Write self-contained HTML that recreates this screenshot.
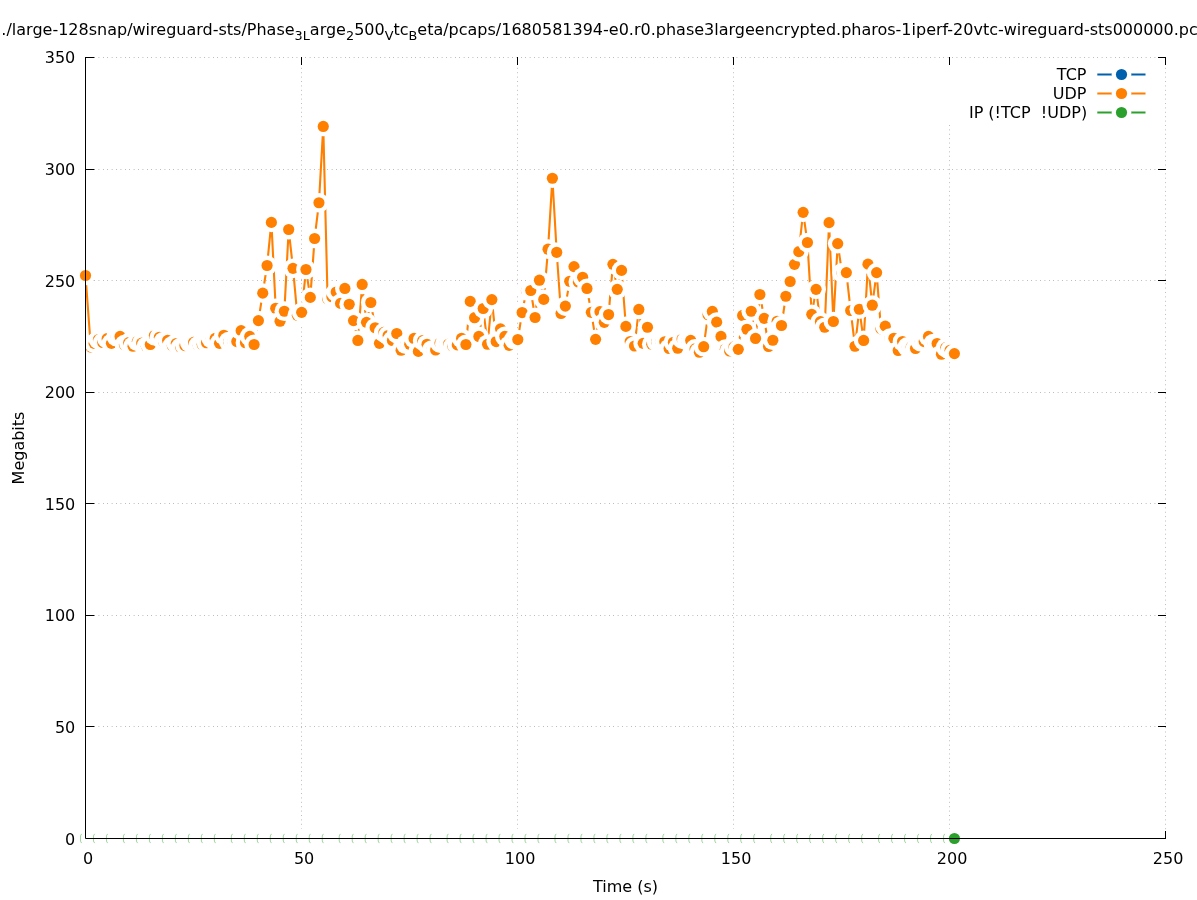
<!DOCTYPE html>
<html><head><meta charset="utf-8"><title>throughput</title>
<style>
html,body{margin:0;padding:0;background:#fff;}
body{width:1197px;height:900px;overflow:hidden;}
svg{display:block;}
text{font-family:"DejaVu Sans","Liberation Sans",sans-serif;font-size:16px;fill:#000;}
.g{stroke:#bdbdbd;stroke-width:1;stroke-dasharray:1 3.65 1 3.35 1 3.4 1 3.6 1 3;fill:none;}
.gv{stroke:#bdbdbd;stroke-width:1;stroke-dasharray:1 3.395;stroke-dashoffset:2.845;fill:none;}
.t{stroke:#000;stroke-width:1;fill:none;}
</style></head><body>
<svg width="1197" height="900" viewBox="0 0 1197 900">
<rect x="0" y="0" width="1197" height="900" fill="#fff"/>

<g id="grid">
<line class="g" x1="85.0" y1="726.50" x2="1165.5" y2="726.50"/>
<line class="g" x1="85.0" y1="615.50" x2="1165.5" y2="615.50"/>
<line class="g" x1="85.0" y1="503.50" x2="1165.5" y2="503.50"/>
<line class="g" x1="85.0" y1="392.50" x2="1165.5" y2="392.50"/>
<line class="g" x1="85.0" y1="280.50" x2="1165.5" y2="280.50"/>
<line class="g" x1="85.0" y1="169.50" x2="1165.5" y2="169.50"/>
<line class="g" x1="85.0" y1="57.50" x2="1165.5" y2="57.50"/>
<line class="gv" x1="301.50" y1="57.5" x2="301.50" y2="838.5"/>
<line class="gv" x1="517.50" y1="57.5" x2="517.50" y2="838.5"/>
<line class="gv" x1="733.50" y1="57.5" x2="733.50" y2="838.5"/>
<line class="gv" x1="949.50" y1="57.5" x2="949.50" y2="838.5"/>
<line class="gv" x1="1165.50" y1="57.5" x2="1165.50" y2="838.5"/>
</g>
<g id="ticks">
<line class="t" x1="85" y1="838.50" x2="94.3" y2="838.50"/>
<line class="t" x1="1166" y1="838.50" x2="1158" y2="838.50"/>
<line class="t" x1="85" y1="726.50" x2="94.3" y2="726.50"/>
<line class="t" x1="1166" y1="726.50" x2="1158" y2="726.50"/>
<line class="t" x1="85" y1="615.50" x2="94.3" y2="615.50"/>
<line class="t" x1="1166" y1="615.50" x2="1158" y2="615.50"/>
<line class="t" x1="85" y1="503.50" x2="94.3" y2="503.50"/>
<line class="t" x1="1166" y1="503.50" x2="1158" y2="503.50"/>
<line class="t" x1="85" y1="392.50" x2="94.3" y2="392.50"/>
<line class="t" x1="1166" y1="392.50" x2="1158" y2="392.50"/>
<line class="t" x1="85" y1="280.50" x2="93.4" y2="280.50"/>
<line class="t" x1="1166" y1="280.50" x2="1158" y2="280.50"/>
<line class="t" x1="85" y1="169.50" x2="94.3" y2="169.50"/>
<line class="t" x1="1166" y1="169.50" x2="1158" y2="169.50"/>
<line class="t" x1="85" y1="57.50" x2="94.3" y2="57.50"/>
<line class="t" x1="1166" y1="57.50" x2="1158" y2="57.50"/>
<line class="t" x1="85.50" y1="839" x2="85.50" y2="831"/>
<line class="t" x1="85.50" y1="57" x2="85.50" y2="65"/>
<line class="t" x1="301.50" y1="839" x2="301.50" y2="831"/>
<line class="t" x1="301.50" y1="57" x2="301.50" y2="65"/>
<line class="t" x1="517.50" y1="839" x2="517.50" y2="831"/>
<line class="t" x1="517.50" y1="57" x2="517.50" y2="65"/>
<line class="t" x1="733.50" y1="839" x2="733.50" y2="831"/>
<line class="t" x1="733.50" y1="57" x2="733.50" y2="65"/>
<line class="t" x1="949.50" y1="839" x2="949.50" y2="831"/>
<line class="t" x1="949.50" y1="57" x2="949.50" y2="65"/>
<line class="t" x1="1165.50" y1="839" x2="1165.50" y2="831"/>
<line class="t" x1="1165.50" y1="57" x2="1165.50" y2="65"/>
</g>
<rect id="keybox" x="944" y="65" width="216" height="60" fill="#fff"/>
<text x="1086.5" y="80.3" text-anchor="end" xml:space="preserve">TCP</text>
<line x1="1097.3" y1="74.5" x2="1145.5" y2="74.5" stroke="#0060ad" stroke-width="2.1"/>
<circle cx="1121.5" cy="74.5" r="9.85" fill="#fff"/><circle cx="1121.5" cy="74.5" r="5.58" fill="#0060ad"/>
<g id="tcp">
<polyline points="85.50,838.50 89.82,838.50 94.15,838.50 98.47,838.50 102.79,838.50 107.12,838.50 111.44,838.50 115.76,838.50 120.08,838.50 124.41,838.50 128.73,838.50 133.05,838.50 137.38,838.50 141.70,838.50 146.02,838.50 150.34,838.50 154.67,838.50 158.99,838.50 163.31,838.50 167.64,838.50 171.96,838.50 176.28,838.50 180.61,838.50 184.93,838.50 189.25,838.50 193.58,838.50 197.90,838.50 202.22,838.50 206.54,838.50 210.87,838.50 215.19,838.50 219.51,838.50 223.84,838.50 228.16,838.50 232.48,838.50 236.81,838.50 241.13,838.50 245.45,838.50 249.77,838.50 254.10,838.50 258.42,838.50 262.74,838.50 267.07,838.50 271.39,838.50 275.71,838.50 280.04,838.50 284.36,838.50 288.68,838.50 293.00,838.50 297.33,838.50 301.65,838.50 305.97,838.50 310.30,838.50 314.62,838.50 318.94,838.50 323.26,838.50 327.59,838.50 331.91,838.50 336.23,838.50 340.56,838.50 344.88,838.50 349.20,838.50 353.53,838.50 357.85,838.50 362.17,838.50 366.50,838.50 370.82,838.50 375.14,838.50 379.46,838.50 383.79,838.50 388.11,838.50 392.43,838.50 396.76,838.50 401.08,838.50 405.40,838.50 409.73,838.50 414.05,838.50 418.37,838.50 422.69,838.50 427.02,838.50 431.34,838.50 435.66,838.50 439.99,838.50 444.31,838.50 448.63,838.50 452.96,838.50 457.28,838.50 461.60,838.50 465.92,838.50 470.25,838.50 474.57,838.50 478.89,838.50 483.22,838.50 487.54,838.50 491.86,838.50 496.19,838.50 500.51,838.50 504.83,838.50 509.15,838.50 513.48,838.50 517.80,838.50 522.12,838.50 526.45,838.50 530.77,838.50 535.09,838.50 539.41,838.50 543.74,838.50 548.06,838.50 552.38,838.50 556.71,838.50 561.03,838.50 565.35,838.50 569.68,838.50 574.00,838.50 578.32,838.50 582.64,838.50 586.97,838.50 591.29,838.50 595.61,838.50 599.94,838.50 604.26,838.50 608.58,838.50 612.91,838.50 617.23,838.50 621.55,838.50 625.88,838.50 630.20,838.50 634.52,838.50 638.84,838.50 643.17,838.50 647.49,838.50 651.81,838.50 656.14,838.50 660.46,838.50 664.78,838.50 669.11,838.50 673.43,838.50 677.75,838.50 682.07,838.50 686.40,838.50 690.72,838.50 695.04,838.50 699.37,838.50 703.69,838.50 708.01,838.50 712.34,838.50 716.66,838.50 720.98,838.50 725.30,838.50 729.63,838.50 733.95,838.50 738.27,838.50 742.60,838.50 746.92,838.50 751.24,838.50 755.57,838.50 759.89,838.50 764.21,838.50 768.53,838.50 772.86,838.50 777.18,838.50 781.50,838.50 785.83,838.50 790.15,838.50 794.47,838.50 798.80,838.50 803.12,838.50 807.44,838.50 811.76,838.50 816.09,838.50 820.41,838.50 824.73,838.50 829.06,838.50 833.38,838.50 837.70,838.50 842.03,838.50 846.35,838.50 850.67,838.50 854.99,838.50 859.32,838.50 863.64,838.50 867.96,838.50 872.29,838.50 876.61,838.50 880.93,838.50 885.26,838.50 889.58,838.50 893.90,838.50 898.22,838.50 902.55,838.50 906.87,838.50 911.19,838.50 915.52,838.50 919.84,838.50 924.16,838.50 928.49,838.50 932.81,838.50 937.13,838.50 941.45,838.50 945.78,838.50 950.10,838.50 954.42,838.50" fill="none" stroke="#0060ad" stroke-width="2.1" stroke-linejoin="round" stroke-linecap="butt"/>
<circle cx="85.50" cy="838.50" r="9.85" fill="#fff"/>
<circle cx="89.82" cy="838.50" r="9.85" fill="#fff"/>
<circle cx="94.15" cy="838.50" r="9.85" fill="#fff"/>
<circle cx="98.47" cy="838.50" r="9.85" fill="#fff"/>
<circle cx="102.79" cy="838.50" r="9.85" fill="#fff"/>
<circle cx="107.12" cy="838.50" r="9.85" fill="#fff"/>
<circle cx="111.44" cy="838.50" r="9.85" fill="#fff"/>
<circle cx="115.76" cy="838.50" r="9.85" fill="#fff"/>
<circle cx="120.08" cy="838.50" r="9.85" fill="#fff"/>
<circle cx="124.41" cy="838.50" r="9.85" fill="#fff"/>
<circle cx="128.73" cy="838.50" r="9.85" fill="#fff"/>
<circle cx="133.05" cy="838.50" r="9.85" fill="#fff"/>
<circle cx="137.38" cy="838.50" r="9.85" fill="#fff"/>
<circle cx="141.70" cy="838.50" r="9.85" fill="#fff"/>
<circle cx="146.02" cy="838.50" r="9.85" fill="#fff"/>
<circle cx="150.34" cy="838.50" r="9.85" fill="#fff"/>
<circle cx="154.67" cy="838.50" r="9.85" fill="#fff"/>
<circle cx="158.99" cy="838.50" r="9.85" fill="#fff"/>
<circle cx="163.31" cy="838.50" r="9.85" fill="#fff"/>
<circle cx="167.64" cy="838.50" r="9.85" fill="#fff"/>
<circle cx="171.96" cy="838.50" r="9.85" fill="#fff"/>
<circle cx="176.28" cy="838.50" r="9.85" fill="#fff"/>
<circle cx="180.61" cy="838.50" r="9.85" fill="#fff"/>
<circle cx="184.93" cy="838.50" r="9.85" fill="#fff"/>
<circle cx="189.25" cy="838.50" r="9.85" fill="#fff"/>
<circle cx="193.58" cy="838.50" r="9.85" fill="#fff"/>
<circle cx="197.90" cy="838.50" r="9.85" fill="#fff"/>
<circle cx="202.22" cy="838.50" r="9.85" fill="#fff"/>
<circle cx="206.54" cy="838.50" r="9.85" fill="#fff"/>
<circle cx="210.87" cy="838.50" r="9.85" fill="#fff"/>
<circle cx="215.19" cy="838.50" r="9.85" fill="#fff"/>
<circle cx="219.51" cy="838.50" r="9.85" fill="#fff"/>
<circle cx="223.84" cy="838.50" r="9.85" fill="#fff"/>
<circle cx="228.16" cy="838.50" r="9.85" fill="#fff"/>
<circle cx="232.48" cy="838.50" r="9.85" fill="#fff"/>
<circle cx="236.81" cy="838.50" r="9.85" fill="#fff"/>
<circle cx="241.13" cy="838.50" r="9.85" fill="#fff"/>
<circle cx="245.45" cy="838.50" r="9.85" fill="#fff"/>
<circle cx="249.77" cy="838.50" r="9.85" fill="#fff"/>
<circle cx="254.10" cy="838.50" r="9.85" fill="#fff"/>
<circle cx="258.42" cy="838.50" r="9.85" fill="#fff"/>
<circle cx="262.74" cy="838.50" r="9.85" fill="#fff"/>
<circle cx="267.07" cy="838.50" r="9.85" fill="#fff"/>
<circle cx="271.39" cy="838.50" r="9.85" fill="#fff"/>
<circle cx="275.71" cy="838.50" r="9.85" fill="#fff"/>
<circle cx="280.04" cy="838.50" r="9.85" fill="#fff"/>
<circle cx="284.36" cy="838.50" r="9.85" fill="#fff"/>
<circle cx="288.68" cy="838.50" r="9.85" fill="#fff"/>
<circle cx="293.00" cy="838.50" r="9.85" fill="#fff"/>
<circle cx="297.33" cy="838.50" r="9.85" fill="#fff"/>
<circle cx="301.65" cy="838.50" r="9.85" fill="#fff"/>
<circle cx="305.97" cy="838.50" r="9.85" fill="#fff"/>
<circle cx="310.30" cy="838.50" r="9.85" fill="#fff"/>
<circle cx="314.62" cy="838.50" r="9.85" fill="#fff"/>
<circle cx="318.94" cy="838.50" r="9.85" fill="#fff"/>
<circle cx="323.26" cy="838.50" r="9.85" fill="#fff"/>
<circle cx="327.59" cy="838.50" r="9.85" fill="#fff"/>
<circle cx="331.91" cy="838.50" r="9.85" fill="#fff"/>
<circle cx="336.23" cy="838.50" r="9.85" fill="#fff"/>
<circle cx="340.56" cy="838.50" r="9.85" fill="#fff"/>
<circle cx="344.88" cy="838.50" r="9.85" fill="#fff"/>
<circle cx="349.20" cy="838.50" r="9.85" fill="#fff"/>
<circle cx="353.53" cy="838.50" r="9.85" fill="#fff"/>
<circle cx="357.85" cy="838.50" r="9.85" fill="#fff"/>
<circle cx="362.17" cy="838.50" r="9.85" fill="#fff"/>
<circle cx="366.50" cy="838.50" r="9.85" fill="#fff"/>
<circle cx="370.82" cy="838.50" r="9.85" fill="#fff"/>
<circle cx="375.14" cy="838.50" r="9.85" fill="#fff"/>
<circle cx="379.46" cy="838.50" r="9.85" fill="#fff"/>
<circle cx="383.79" cy="838.50" r="9.85" fill="#fff"/>
<circle cx="388.11" cy="838.50" r="9.85" fill="#fff"/>
<circle cx="392.43" cy="838.50" r="9.85" fill="#fff"/>
<circle cx="396.76" cy="838.50" r="9.85" fill="#fff"/>
<circle cx="401.08" cy="838.50" r="9.85" fill="#fff"/>
<circle cx="405.40" cy="838.50" r="9.85" fill="#fff"/>
<circle cx="409.73" cy="838.50" r="9.85" fill="#fff"/>
<circle cx="414.05" cy="838.50" r="9.85" fill="#fff"/>
<circle cx="418.37" cy="838.50" r="9.85" fill="#fff"/>
<circle cx="422.69" cy="838.50" r="9.85" fill="#fff"/>
<circle cx="427.02" cy="838.50" r="9.85" fill="#fff"/>
<circle cx="431.34" cy="838.50" r="9.85" fill="#fff"/>
<circle cx="435.66" cy="838.50" r="9.85" fill="#fff"/>
<circle cx="439.99" cy="838.50" r="9.85" fill="#fff"/>
<circle cx="444.31" cy="838.50" r="9.85" fill="#fff"/>
<circle cx="448.63" cy="838.50" r="9.85" fill="#fff"/>
<circle cx="452.96" cy="838.50" r="9.85" fill="#fff"/>
<circle cx="457.28" cy="838.50" r="9.85" fill="#fff"/>
<circle cx="461.60" cy="838.50" r="9.85" fill="#fff"/>
<circle cx="465.92" cy="838.50" r="9.85" fill="#fff"/>
<circle cx="470.25" cy="838.50" r="9.85" fill="#fff"/>
<circle cx="474.57" cy="838.50" r="9.85" fill="#fff"/>
<circle cx="478.89" cy="838.50" r="9.85" fill="#fff"/>
<circle cx="483.22" cy="838.50" r="9.85" fill="#fff"/>
<circle cx="487.54" cy="838.50" r="9.85" fill="#fff"/>
<circle cx="491.86" cy="838.50" r="9.85" fill="#fff"/>
<circle cx="496.19" cy="838.50" r="9.85" fill="#fff"/>
<circle cx="500.51" cy="838.50" r="9.85" fill="#fff"/>
<circle cx="504.83" cy="838.50" r="9.85" fill="#fff"/>
<circle cx="509.15" cy="838.50" r="9.85" fill="#fff"/>
<circle cx="513.48" cy="838.50" r="9.85" fill="#fff"/>
<circle cx="517.80" cy="838.50" r="9.85" fill="#fff"/>
<circle cx="522.12" cy="838.50" r="9.85" fill="#fff"/>
<circle cx="526.45" cy="838.50" r="9.85" fill="#fff"/>
<circle cx="530.77" cy="838.50" r="9.85" fill="#fff"/>
<circle cx="535.09" cy="838.50" r="9.85" fill="#fff"/>
<circle cx="539.41" cy="838.50" r="9.85" fill="#fff"/>
<circle cx="543.74" cy="838.50" r="9.85" fill="#fff"/>
<circle cx="548.06" cy="838.50" r="9.85" fill="#fff"/>
<circle cx="552.38" cy="838.50" r="9.85" fill="#fff"/>
<circle cx="556.71" cy="838.50" r="9.85" fill="#fff"/>
<circle cx="561.03" cy="838.50" r="9.85" fill="#fff"/>
<circle cx="565.35" cy="838.50" r="9.85" fill="#fff"/>
<circle cx="569.68" cy="838.50" r="9.85" fill="#fff"/>
<circle cx="574.00" cy="838.50" r="9.85" fill="#fff"/>
<circle cx="578.32" cy="838.50" r="9.85" fill="#fff"/>
<circle cx="582.64" cy="838.50" r="9.85" fill="#fff"/>
<circle cx="586.97" cy="838.50" r="9.85" fill="#fff"/>
<circle cx="591.29" cy="838.50" r="9.85" fill="#fff"/>
<circle cx="595.61" cy="838.50" r="9.85" fill="#fff"/>
<circle cx="599.94" cy="838.50" r="9.85" fill="#fff"/>
<circle cx="604.26" cy="838.50" r="9.85" fill="#fff"/>
<circle cx="608.58" cy="838.50" r="9.85" fill="#fff"/>
<circle cx="612.91" cy="838.50" r="9.85" fill="#fff"/>
<circle cx="617.23" cy="838.50" r="9.85" fill="#fff"/>
<circle cx="621.55" cy="838.50" r="9.85" fill="#fff"/>
<circle cx="625.88" cy="838.50" r="9.85" fill="#fff"/>
<circle cx="630.20" cy="838.50" r="9.85" fill="#fff"/>
<circle cx="634.52" cy="838.50" r="9.85" fill="#fff"/>
<circle cx="638.84" cy="838.50" r="9.85" fill="#fff"/>
<circle cx="643.17" cy="838.50" r="9.85" fill="#fff"/>
<circle cx="647.49" cy="838.50" r="9.85" fill="#fff"/>
<circle cx="651.81" cy="838.50" r="9.85" fill="#fff"/>
<circle cx="656.14" cy="838.50" r="9.85" fill="#fff"/>
<circle cx="660.46" cy="838.50" r="9.85" fill="#fff"/>
<circle cx="664.78" cy="838.50" r="9.85" fill="#fff"/>
<circle cx="669.11" cy="838.50" r="9.85" fill="#fff"/>
<circle cx="673.43" cy="838.50" r="9.85" fill="#fff"/>
<circle cx="677.75" cy="838.50" r="9.85" fill="#fff"/>
<circle cx="682.07" cy="838.50" r="9.85" fill="#fff"/>
<circle cx="686.40" cy="838.50" r="9.85" fill="#fff"/>
<circle cx="690.72" cy="838.50" r="9.85" fill="#fff"/>
<circle cx="695.04" cy="838.50" r="9.85" fill="#fff"/>
<circle cx="699.37" cy="838.50" r="9.85" fill="#fff"/>
<circle cx="703.69" cy="838.50" r="9.85" fill="#fff"/>
<circle cx="708.01" cy="838.50" r="9.85" fill="#fff"/>
<circle cx="712.34" cy="838.50" r="9.85" fill="#fff"/>
<circle cx="716.66" cy="838.50" r="9.85" fill="#fff"/>
<circle cx="720.98" cy="838.50" r="9.85" fill="#fff"/>
<circle cx="725.30" cy="838.50" r="9.85" fill="#fff"/>
<circle cx="729.63" cy="838.50" r="9.85" fill="#fff"/>
<circle cx="733.95" cy="838.50" r="9.85" fill="#fff"/>
<circle cx="738.27" cy="838.50" r="9.85" fill="#fff"/>
<circle cx="742.60" cy="838.50" r="9.85" fill="#fff"/>
<circle cx="746.92" cy="838.50" r="9.85" fill="#fff"/>
<circle cx="751.24" cy="838.50" r="9.85" fill="#fff"/>
<circle cx="755.57" cy="838.50" r="9.85" fill="#fff"/>
<circle cx="759.89" cy="838.50" r="9.85" fill="#fff"/>
<circle cx="764.21" cy="838.50" r="9.85" fill="#fff"/>
<circle cx="768.53" cy="838.50" r="9.85" fill="#fff"/>
<circle cx="772.86" cy="838.50" r="9.85" fill="#fff"/>
<circle cx="777.18" cy="838.50" r="9.85" fill="#fff"/>
<circle cx="781.50" cy="838.50" r="9.85" fill="#fff"/>
<circle cx="785.83" cy="838.50" r="9.85" fill="#fff"/>
<circle cx="790.15" cy="838.50" r="9.85" fill="#fff"/>
<circle cx="794.47" cy="838.50" r="9.85" fill="#fff"/>
<circle cx="798.80" cy="838.50" r="9.85" fill="#fff"/>
<circle cx="803.12" cy="838.50" r="9.85" fill="#fff"/>
<circle cx="807.44" cy="838.50" r="9.85" fill="#fff"/>
<circle cx="811.76" cy="838.50" r="9.85" fill="#fff"/>
<circle cx="816.09" cy="838.50" r="9.85" fill="#fff"/>
<circle cx="820.41" cy="838.50" r="9.85" fill="#fff"/>
<circle cx="824.73" cy="838.50" r="9.85" fill="#fff"/>
<circle cx="829.06" cy="838.50" r="9.85" fill="#fff"/>
<circle cx="833.38" cy="838.50" r="9.85" fill="#fff"/>
<circle cx="837.70" cy="838.50" r="9.85" fill="#fff"/>
<circle cx="842.03" cy="838.50" r="9.85" fill="#fff"/>
<circle cx="846.35" cy="838.50" r="9.85" fill="#fff"/>
<circle cx="850.67" cy="838.50" r="9.85" fill="#fff"/>
<circle cx="854.99" cy="838.50" r="9.85" fill="#fff"/>
<circle cx="859.32" cy="838.50" r="9.85" fill="#fff"/>
<circle cx="863.64" cy="838.50" r="9.85" fill="#fff"/>
<circle cx="867.96" cy="838.50" r="9.85" fill="#fff"/>
<circle cx="872.29" cy="838.50" r="9.85" fill="#fff"/>
<circle cx="876.61" cy="838.50" r="9.85" fill="#fff"/>
<circle cx="880.93" cy="838.50" r="9.85" fill="#fff"/>
<circle cx="885.26" cy="838.50" r="9.85" fill="#fff"/>
<circle cx="889.58" cy="838.50" r="9.85" fill="#fff"/>
<circle cx="893.90" cy="838.50" r="9.85" fill="#fff"/>
<circle cx="898.22" cy="838.50" r="9.85" fill="#fff"/>
<circle cx="902.55" cy="838.50" r="9.85" fill="#fff"/>
<circle cx="906.87" cy="838.50" r="9.85" fill="#fff"/>
<circle cx="911.19" cy="838.50" r="9.85" fill="#fff"/>
<circle cx="915.52" cy="838.50" r="9.85" fill="#fff"/>
<circle cx="919.84" cy="838.50" r="9.85" fill="#fff"/>
<circle cx="924.16" cy="838.50" r="9.85" fill="#fff"/>
<circle cx="928.49" cy="838.50" r="9.85" fill="#fff"/>
<circle cx="932.81" cy="838.50" r="9.85" fill="#fff"/>
<circle cx="937.13" cy="838.50" r="9.85" fill="#fff"/>
<circle cx="941.45" cy="838.50" r="9.85" fill="#fff"/>
<circle cx="945.78" cy="838.50" r="9.85" fill="#fff"/>
<circle cx="950.10" cy="838.50" r="9.85" fill="#fff"/>
<circle cx="954.42" cy="838.50" r="9.85" fill="#fff"/>
<circle cx="954.42" cy="838.50" r="5.58" fill="#0060ad"/>
</g>
<text x="1086.5" y="99.3" text-anchor="end" xml:space="preserve">UDP</text>
<line x1="1097.3" y1="93.5" x2="1145.5" y2="93.5" stroke="#ff7f00" stroke-width="2.1"/>
<circle cx="1121.5" cy="93.5" r="9.85" fill="#fff"/><circle cx="1121.5" cy="93.5" r="5.58" fill="#ff7f00"/>
<g id="udp">
<polyline points="85.50,275.51 90.82,347.14 94.15,343.35 98.47,339.55 102.79,342.45 107.12,338.66 111.44,343.35 116.26,336.43 120.08,336.43 124.41,344.68 128.73,342.68 133.05,346.25 137.38,341.34 141.70,343.12 146.42,346.25 150.34,344.46 154.37,335.54 159.39,337.32 163.61,341.56 167.64,340.45 172.36,345.80 176.28,343.57 180.61,347.36 184.93,345.58 189.75,342.45 193.58,342.45 198.30,345.58 202.22,344.46 206.54,342.68 211.37,338.44 215.19,338.44 219.51,343.35 223.84,335.31 228.66,341.56 232.98,341.56 236.81,341.56 241.13,330.63 245.45,342.68 249.77,336.43 254.10,344.46 258.42,320.59 262.74,293.14 267.07,265.47 271.39,222.40 275.71,308.31 280.04,321.25 284.36,311.21 288.68,229.54 293.00,268.37 297.33,315.23 301.65,312.33 305.97,269.49 310.30,297.38 314.62,238.47 318.94,202.77 323.26,126.45 327.59,298.72 331.91,296.71 336.23,292.02 340.56,303.40 344.88,288.45 349.20,304.30 353.53,320.59 357.85,340.45 362.17,284.44 366.50,322.37 370.82,302.51 375.14,327.73 379.46,343.35 383.79,332.41 388.11,335.54 392.43,340.45 396.76,333.53 401.08,350.26 405.90,344.24 409.73,344.24 414.05,338.44 418.37,351.38 422.69,340.67 427.02,344.24 431.84,350.04 435.66,350.04 439.99,343.12 444.81,344.02 448.63,344.02 452.96,346.47 457.28,344.91 461.60,338.21 465.92,344.46 470.25,301.40 474.57,317.68 478.89,336.43 483.22,308.54 487.54,344.24 491.86,299.61 496.19,341.56 500.51,328.84 504.83,336.43 509.15,345.35 513.98,339.55 517.80,339.55 522.12,312.55 526.45,290.68 530.77,290.46 535.09,317.46 539.41,280.20 543.74,299.39 548.06,249.18 552.38,178.22 556.71,252.30 561.03,313.44 565.35,306.08 569.68,281.31 574.00,266.58 578.32,281.98 582.64,277.30 586.97,288.45 591.29,312.33 595.61,339.33 599.94,311.66 604.26,322.37 608.58,314.56 612.91,264.35 617.23,289.35 621.55,270.38 625.88,326.39 630.20,341.56 634.52,346.02 638.84,309.43 643.17,343.35 647.49,327.28 651.81,344.24 656.64,341.78 660.96,341.78 664.78,341.78 669.11,348.48 673.43,342.23 677.75,348.26 682.07,339.11 686.90,340.45 690.72,340.45 695.04,348.92 699.37,352.27 703.69,346.69 708.01,314.78 712.34,311.44 716.66,322.15 720.98,336.43 725.30,349.15 729.63,350.93 733.95,346.92 738.27,349.37 742.60,315.45 746.92,329.29 751.24,311.21 755.57,338.44 759.89,294.48 764.21,318.35 768.53,346.47 772.86,340.22 777.18,321.25 781.50,325.49 785.83,296.26 790.15,281.54 794.47,264.35 798.80,251.63 803.12,212.36 807.44,242.49 811.76,314.34 816.09,289.35 820.41,321.70 824.73,327.28 829.06,222.63 833.38,321.48 837.70,243.60 842.03,272.83 846.35,272.61 850.67,310.54 854.99,346.25 859.32,309.21 863.64,340.45 867.96,264.13 872.29,305.19 876.61,272.61 880.93,328.84 885.26,326.16 890.08,338.21 893.90,338.21 898.22,350.49 902.55,341.56 907.37,346.92 911.19,346.92 915.52,348.48 920.34,341.56 924.16,341.56 928.49,336.43 933.31,343.57 937.13,343.57 941.45,354.28 945.78,347.59 950.10,350.26 954.42,353.61" fill="none" stroke="#ff7f00" stroke-width="2.1" stroke-linejoin="round" stroke-linecap="butt"/>
<circle cx="85.50" cy="275.51" r="9.85" fill="#fff"/>
<circle cx="85.50" cy="275.51" r="5.58" fill="#ff7f00"/>
<circle cx="90.82" cy="347.14" r="9.85" fill="#fff"/>
<circle cx="90.82" cy="347.14" r="5.58" fill="#ff7f00"/>
<circle cx="94.15" cy="343.35" r="9.85" fill="#fff"/>
<circle cx="94.15" cy="343.35" r="5.58" fill="#ff7f00"/>
<circle cx="98.47" cy="339.55" r="9.85" fill="#fff"/>
<circle cx="98.47" cy="339.55" r="5.58" fill="#ff7f00"/>
<circle cx="102.79" cy="342.45" r="9.85" fill="#fff"/>
<circle cx="102.79" cy="342.45" r="5.58" fill="#ff7f00"/>
<circle cx="107.12" cy="338.66" r="9.85" fill="#fff"/>
<circle cx="107.12" cy="338.66" r="5.58" fill="#ff7f00"/>
<circle cx="111.44" cy="343.35" r="9.85" fill="#fff"/>
<circle cx="111.44" cy="343.35" r="5.58" fill="#ff7f00"/>
<circle cx="116.26" cy="336.43" r="9.85" fill="#fff"/>
<circle cx="116.26" cy="336.43" r="5.58" fill="#ff7f00"/>
<circle cx="120.08" cy="336.43" r="9.85" fill="#fff"/>
<circle cx="120.08" cy="336.43" r="5.58" fill="#ff7f00"/>
<circle cx="124.41" cy="344.68" r="9.85" fill="#fff"/>
<circle cx="124.41" cy="344.68" r="5.58" fill="#ff7f00"/>
<circle cx="128.73" cy="342.68" r="9.85" fill="#fff"/>
<circle cx="128.73" cy="342.68" r="5.58" fill="#ff7f00"/>
<circle cx="133.05" cy="346.25" r="9.85" fill="#fff"/>
<circle cx="133.05" cy="346.25" r="5.58" fill="#ff7f00"/>
<circle cx="137.38" cy="341.34" r="9.85" fill="#fff"/>
<circle cx="137.38" cy="341.34" r="5.58" fill="#ff7f00"/>
<circle cx="141.70" cy="343.12" r="9.85" fill="#fff"/>
<circle cx="141.70" cy="343.12" r="5.58" fill="#ff7f00"/>
<circle cx="146.42" cy="346.25" r="9.85" fill="#fff"/>
<circle cx="146.42" cy="346.25" r="5.58" fill="#ff7f00"/>
<circle cx="150.34" cy="344.46" r="9.85" fill="#fff"/>
<circle cx="150.34" cy="344.46" r="5.58" fill="#ff7f00"/>
<circle cx="154.37" cy="335.54" r="9.85" fill="#fff"/>
<circle cx="154.37" cy="335.54" r="5.58" fill="#ff7f00"/>
<circle cx="159.39" cy="337.32" r="9.85" fill="#fff"/>
<circle cx="159.39" cy="337.32" r="5.58" fill="#ff7f00"/>
<circle cx="163.61" cy="341.56" r="9.85" fill="#fff"/>
<circle cx="163.61" cy="341.56" r="5.58" fill="#ff7f00"/>
<circle cx="167.64" cy="340.45" r="9.85" fill="#fff"/>
<circle cx="167.64" cy="340.45" r="5.58" fill="#ff7f00"/>
<circle cx="172.36" cy="345.80" r="9.85" fill="#fff"/>
<circle cx="172.36" cy="345.80" r="5.58" fill="#ff7f00"/>
<circle cx="176.28" cy="343.57" r="9.85" fill="#fff"/>
<circle cx="176.28" cy="343.57" r="5.58" fill="#ff7f00"/>
<circle cx="180.61" cy="347.36" r="9.85" fill="#fff"/>
<circle cx="180.61" cy="347.36" r="5.58" fill="#ff7f00"/>
<circle cx="184.93" cy="345.58" r="9.85" fill="#fff"/>
<circle cx="184.93" cy="345.58" r="5.58" fill="#ff7f00"/>
<circle cx="189.75" cy="342.45" r="9.85" fill="#fff"/>
<circle cx="189.75" cy="342.45" r="5.58" fill="#ff7f00"/>
<circle cx="193.58" cy="342.45" r="9.85" fill="#fff"/>
<circle cx="193.58" cy="342.45" r="5.58" fill="#ff7f00"/>
<circle cx="198.30" cy="345.58" r="9.85" fill="#fff"/>
<circle cx="198.30" cy="345.58" r="5.58" fill="#ff7f00"/>
<circle cx="202.22" cy="344.46" r="9.85" fill="#fff"/>
<circle cx="202.22" cy="344.46" r="5.58" fill="#ff7f00"/>
<circle cx="206.54" cy="342.68" r="9.85" fill="#fff"/>
<circle cx="206.54" cy="342.68" r="5.58" fill="#ff7f00"/>
<circle cx="211.37" cy="338.44" r="9.85" fill="#fff"/>
<circle cx="211.37" cy="338.44" r="5.58" fill="#ff7f00"/>
<circle cx="215.19" cy="338.44" r="9.85" fill="#fff"/>
<circle cx="215.19" cy="338.44" r="5.58" fill="#ff7f00"/>
<circle cx="219.51" cy="343.35" r="9.85" fill="#fff"/>
<circle cx="219.51" cy="343.35" r="5.58" fill="#ff7f00"/>
<circle cx="223.84" cy="335.31" r="9.85" fill="#fff"/>
<circle cx="223.84" cy="335.31" r="5.58" fill="#ff7f00"/>
<circle cx="228.66" cy="341.56" r="9.85" fill="#fff"/>
<circle cx="228.66" cy="341.56" r="5.58" fill="#ff7f00"/>
<circle cx="232.98" cy="341.56" r="9.85" fill="#fff"/>
<circle cx="232.98" cy="341.56" r="5.58" fill="#ff7f00"/>
<circle cx="236.81" cy="341.56" r="9.85" fill="#fff"/>
<circle cx="236.81" cy="341.56" r="5.58" fill="#ff7f00"/>
<circle cx="241.13" cy="330.63" r="9.85" fill="#fff"/>
<circle cx="241.13" cy="330.63" r="5.58" fill="#ff7f00"/>
<circle cx="245.45" cy="342.68" r="9.85" fill="#fff"/>
<circle cx="245.45" cy="342.68" r="5.58" fill="#ff7f00"/>
<circle cx="249.77" cy="336.43" r="9.85" fill="#fff"/>
<circle cx="249.77" cy="336.43" r="5.58" fill="#ff7f00"/>
<circle cx="254.10" cy="344.46" r="9.85" fill="#fff"/>
<circle cx="254.10" cy="344.46" r="5.58" fill="#ff7f00"/>
<circle cx="258.42" cy="320.59" r="9.85" fill="#fff"/>
<circle cx="258.42" cy="320.59" r="5.58" fill="#ff7f00"/>
<circle cx="262.74" cy="293.14" r="9.85" fill="#fff"/>
<circle cx="262.74" cy="293.14" r="5.58" fill="#ff7f00"/>
<circle cx="267.07" cy="265.47" r="9.85" fill="#fff"/>
<circle cx="267.07" cy="265.47" r="5.58" fill="#ff7f00"/>
<circle cx="271.39" cy="222.40" r="9.85" fill="#fff"/>
<circle cx="271.39" cy="222.40" r="5.58" fill="#ff7f00"/>
<circle cx="275.71" cy="308.31" r="9.85" fill="#fff"/>
<circle cx="275.71" cy="308.31" r="5.58" fill="#ff7f00"/>
<circle cx="280.04" cy="321.25" r="9.85" fill="#fff"/>
<circle cx="280.04" cy="321.25" r="5.58" fill="#ff7f00"/>
<circle cx="284.36" cy="311.21" r="9.85" fill="#fff"/>
<circle cx="284.36" cy="311.21" r="5.58" fill="#ff7f00"/>
<circle cx="288.68" cy="229.54" r="9.85" fill="#fff"/>
<circle cx="288.68" cy="229.54" r="5.58" fill="#ff7f00"/>
<circle cx="293.00" cy="268.37" r="9.85" fill="#fff"/>
<circle cx="293.00" cy="268.37" r="5.58" fill="#ff7f00"/>
<circle cx="297.33" cy="315.23" r="9.85" fill="#fff"/>
<circle cx="297.33" cy="315.23" r="5.58" fill="#ff7f00"/>
<circle cx="301.65" cy="312.33" r="9.85" fill="#fff"/>
<circle cx="301.65" cy="312.33" r="5.58" fill="#ff7f00"/>
<circle cx="305.97" cy="269.49" r="9.85" fill="#fff"/>
<circle cx="305.97" cy="269.49" r="5.58" fill="#ff7f00"/>
<circle cx="310.30" cy="297.38" r="9.85" fill="#fff"/>
<circle cx="310.30" cy="297.38" r="5.58" fill="#ff7f00"/>
<circle cx="314.62" cy="238.47" r="9.85" fill="#fff"/>
<circle cx="314.62" cy="238.47" r="5.58" fill="#ff7f00"/>
<circle cx="318.94" cy="202.77" r="9.85" fill="#fff"/>
<circle cx="318.94" cy="202.77" r="5.58" fill="#ff7f00"/>
<circle cx="323.26" cy="126.45" r="9.85" fill="#fff"/>
<circle cx="323.26" cy="126.45" r="5.58" fill="#ff7f00"/>
<circle cx="327.59" cy="298.72" r="9.85" fill="#fff"/>
<circle cx="327.59" cy="298.72" r="5.58" fill="#ff7f00"/>
<circle cx="331.91" cy="296.71" r="9.85" fill="#fff"/>
<circle cx="331.91" cy="296.71" r="5.58" fill="#ff7f00"/>
<circle cx="336.23" cy="292.02" r="9.85" fill="#fff"/>
<circle cx="336.23" cy="292.02" r="5.58" fill="#ff7f00"/>
<circle cx="340.56" cy="303.40" r="9.85" fill="#fff"/>
<circle cx="340.56" cy="303.40" r="5.58" fill="#ff7f00"/>
<circle cx="344.88" cy="288.45" r="9.85" fill="#fff"/>
<circle cx="344.88" cy="288.45" r="5.58" fill="#ff7f00"/>
<circle cx="349.20" cy="304.30" r="9.85" fill="#fff"/>
<circle cx="349.20" cy="304.30" r="5.58" fill="#ff7f00"/>
<circle cx="353.53" cy="320.59" r="9.85" fill="#fff"/>
<circle cx="353.53" cy="320.59" r="5.58" fill="#ff7f00"/>
<circle cx="357.85" cy="340.45" r="9.85" fill="#fff"/>
<circle cx="357.85" cy="340.45" r="5.58" fill="#ff7f00"/>
<circle cx="362.17" cy="284.44" r="9.85" fill="#fff"/>
<circle cx="362.17" cy="284.44" r="5.58" fill="#ff7f00"/>
<circle cx="366.50" cy="322.37" r="9.85" fill="#fff"/>
<circle cx="366.50" cy="322.37" r="5.58" fill="#ff7f00"/>
<circle cx="370.82" cy="302.51" r="9.85" fill="#fff"/>
<circle cx="370.82" cy="302.51" r="5.58" fill="#ff7f00"/>
<circle cx="375.14" cy="327.73" r="9.85" fill="#fff"/>
<circle cx="375.14" cy="327.73" r="5.58" fill="#ff7f00"/>
<circle cx="379.46" cy="343.35" r="9.85" fill="#fff"/>
<circle cx="379.46" cy="343.35" r="5.58" fill="#ff7f00"/>
<circle cx="383.79" cy="332.41" r="9.85" fill="#fff"/>
<circle cx="383.79" cy="332.41" r="5.58" fill="#ff7f00"/>
<circle cx="388.11" cy="335.54" r="9.85" fill="#fff"/>
<circle cx="388.11" cy="335.54" r="5.58" fill="#ff7f00"/>
<circle cx="392.43" cy="340.45" r="9.85" fill="#fff"/>
<circle cx="392.43" cy="340.45" r="5.58" fill="#ff7f00"/>
<circle cx="396.76" cy="333.53" r="9.85" fill="#fff"/>
<circle cx="396.76" cy="333.53" r="5.58" fill="#ff7f00"/>
<circle cx="401.08" cy="350.26" r="9.85" fill="#fff"/>
<circle cx="401.08" cy="350.26" r="5.58" fill="#ff7f00"/>
<circle cx="405.90" cy="344.24" r="9.85" fill="#fff"/>
<circle cx="405.90" cy="344.24" r="5.58" fill="#ff7f00"/>
<circle cx="409.73" cy="344.24" r="9.85" fill="#fff"/>
<circle cx="409.73" cy="344.24" r="5.58" fill="#ff7f00"/>
<circle cx="414.05" cy="338.44" r="9.85" fill="#fff"/>
<circle cx="414.05" cy="338.44" r="5.58" fill="#ff7f00"/>
<circle cx="418.37" cy="351.38" r="9.85" fill="#fff"/>
<circle cx="418.37" cy="351.38" r="5.58" fill="#ff7f00"/>
<circle cx="422.69" cy="340.67" r="9.85" fill="#fff"/>
<circle cx="422.69" cy="340.67" r="5.58" fill="#ff7f00"/>
<circle cx="427.02" cy="344.24" r="9.85" fill="#fff"/>
<circle cx="427.02" cy="344.24" r="5.58" fill="#ff7f00"/>
<circle cx="431.84" cy="350.04" r="9.85" fill="#fff"/>
<circle cx="431.84" cy="350.04" r="5.58" fill="#ff7f00"/>
<circle cx="435.66" cy="350.04" r="9.85" fill="#fff"/>
<circle cx="435.66" cy="350.04" r="5.58" fill="#ff7f00"/>
<circle cx="439.99" cy="343.12" r="9.85" fill="#fff"/>
<circle cx="439.99" cy="343.12" r="5.58" fill="#ff7f00"/>
<circle cx="444.81" cy="344.02" r="9.85" fill="#fff"/>
<circle cx="444.81" cy="344.02" r="5.58" fill="#ff7f00"/>
<circle cx="448.63" cy="344.02" r="9.85" fill="#fff"/>
<circle cx="448.63" cy="344.02" r="5.58" fill="#ff7f00"/>
<circle cx="452.96" cy="346.47" r="9.85" fill="#fff"/>
<circle cx="452.96" cy="346.47" r="5.58" fill="#ff7f00"/>
<circle cx="457.28" cy="344.91" r="9.85" fill="#fff"/>
<circle cx="457.28" cy="344.91" r="5.58" fill="#ff7f00"/>
<circle cx="461.60" cy="338.21" r="9.85" fill="#fff"/>
<circle cx="461.60" cy="338.21" r="5.58" fill="#ff7f00"/>
<circle cx="465.92" cy="344.46" r="9.85" fill="#fff"/>
<circle cx="465.92" cy="344.46" r="5.58" fill="#ff7f00"/>
<circle cx="470.25" cy="301.40" r="9.85" fill="#fff"/>
<circle cx="470.25" cy="301.40" r="5.58" fill="#ff7f00"/>
<circle cx="474.57" cy="317.68" r="9.85" fill="#fff"/>
<circle cx="474.57" cy="317.68" r="5.58" fill="#ff7f00"/>
<circle cx="478.89" cy="336.43" r="9.85" fill="#fff"/>
<circle cx="478.89" cy="336.43" r="5.58" fill="#ff7f00"/>
<circle cx="483.22" cy="308.54" r="9.85" fill="#fff"/>
<circle cx="483.22" cy="308.54" r="5.58" fill="#ff7f00"/>
<circle cx="487.54" cy="344.24" r="9.85" fill="#fff"/>
<circle cx="487.54" cy="344.24" r="5.58" fill="#ff7f00"/>
<circle cx="491.86" cy="299.61" r="9.85" fill="#fff"/>
<circle cx="491.86" cy="299.61" r="5.58" fill="#ff7f00"/>
<circle cx="496.19" cy="341.56" r="9.85" fill="#fff"/>
<circle cx="496.19" cy="341.56" r="5.58" fill="#ff7f00"/>
<circle cx="500.51" cy="328.84" r="9.85" fill="#fff"/>
<circle cx="500.51" cy="328.84" r="5.58" fill="#ff7f00"/>
<circle cx="504.83" cy="336.43" r="9.85" fill="#fff"/>
<circle cx="504.83" cy="336.43" r="5.58" fill="#ff7f00"/>
<circle cx="509.15" cy="345.35" r="9.85" fill="#fff"/>
<circle cx="509.15" cy="345.35" r="5.58" fill="#ff7f00"/>
<circle cx="513.98" cy="339.55" r="9.85" fill="#fff"/>
<circle cx="513.98" cy="339.55" r="5.58" fill="#ff7f00"/>
<circle cx="517.80" cy="339.55" r="9.85" fill="#fff"/>
<circle cx="517.80" cy="339.55" r="5.58" fill="#ff7f00"/>
<circle cx="522.12" cy="312.55" r="9.85" fill="#fff"/>
<circle cx="522.12" cy="312.55" r="5.58" fill="#ff7f00"/>
<circle cx="526.45" cy="290.68" r="9.85" fill="#fff"/>
<circle cx="526.45" cy="290.68" r="5.58" fill="#ff7f00"/>
<circle cx="530.77" cy="290.46" r="9.85" fill="#fff"/>
<circle cx="530.77" cy="290.46" r="5.58" fill="#ff7f00"/>
<circle cx="535.09" cy="317.46" r="9.85" fill="#fff"/>
<circle cx="535.09" cy="317.46" r="5.58" fill="#ff7f00"/>
<circle cx="539.41" cy="280.20" r="9.85" fill="#fff"/>
<circle cx="539.41" cy="280.20" r="5.58" fill="#ff7f00"/>
<circle cx="543.74" cy="299.39" r="9.85" fill="#fff"/>
<circle cx="543.74" cy="299.39" r="5.58" fill="#ff7f00"/>
<circle cx="548.06" cy="249.18" r="9.85" fill="#fff"/>
<circle cx="548.06" cy="249.18" r="5.58" fill="#ff7f00"/>
<circle cx="552.38" cy="178.22" r="9.85" fill="#fff"/>
<circle cx="552.38" cy="178.22" r="5.58" fill="#ff7f00"/>
<circle cx="556.71" cy="252.30" r="9.85" fill="#fff"/>
<circle cx="556.71" cy="252.30" r="5.58" fill="#ff7f00"/>
<circle cx="561.03" cy="313.44" r="9.85" fill="#fff"/>
<circle cx="561.03" cy="313.44" r="5.58" fill="#ff7f00"/>
<circle cx="565.35" cy="306.08" r="9.85" fill="#fff"/>
<circle cx="565.35" cy="306.08" r="5.58" fill="#ff7f00"/>
<circle cx="569.68" cy="281.31" r="9.85" fill="#fff"/>
<circle cx="569.68" cy="281.31" r="5.58" fill="#ff7f00"/>
<circle cx="574.00" cy="266.58" r="9.85" fill="#fff"/>
<circle cx="574.00" cy="266.58" r="5.58" fill="#ff7f00"/>
<circle cx="578.32" cy="281.98" r="9.85" fill="#fff"/>
<circle cx="578.32" cy="281.98" r="5.58" fill="#ff7f00"/>
<circle cx="582.64" cy="277.30" r="9.85" fill="#fff"/>
<circle cx="582.64" cy="277.30" r="5.58" fill="#ff7f00"/>
<circle cx="586.97" cy="288.45" r="9.85" fill="#fff"/>
<circle cx="586.97" cy="288.45" r="5.58" fill="#ff7f00"/>
<circle cx="591.29" cy="312.33" r="9.85" fill="#fff"/>
<circle cx="591.29" cy="312.33" r="5.58" fill="#ff7f00"/>
<circle cx="595.61" cy="339.33" r="9.85" fill="#fff"/>
<circle cx="595.61" cy="339.33" r="5.58" fill="#ff7f00"/>
<circle cx="599.94" cy="311.66" r="9.85" fill="#fff"/>
<circle cx="599.94" cy="311.66" r="5.58" fill="#ff7f00"/>
<circle cx="604.26" cy="322.37" r="9.85" fill="#fff"/>
<circle cx="604.26" cy="322.37" r="5.58" fill="#ff7f00"/>
<circle cx="608.58" cy="314.56" r="9.85" fill="#fff"/>
<circle cx="608.58" cy="314.56" r="5.58" fill="#ff7f00"/>
<circle cx="612.91" cy="264.35" r="9.85" fill="#fff"/>
<circle cx="612.91" cy="264.35" r="5.58" fill="#ff7f00"/>
<circle cx="617.23" cy="289.35" r="9.85" fill="#fff"/>
<circle cx="617.23" cy="289.35" r="5.58" fill="#ff7f00"/>
<circle cx="621.55" cy="270.38" r="9.85" fill="#fff"/>
<circle cx="621.55" cy="270.38" r="5.58" fill="#ff7f00"/>
<circle cx="625.88" cy="326.39" r="9.85" fill="#fff"/>
<circle cx="625.88" cy="326.39" r="5.58" fill="#ff7f00"/>
<circle cx="630.20" cy="341.56" r="9.85" fill="#fff"/>
<circle cx="630.20" cy="341.56" r="5.58" fill="#ff7f00"/>
<circle cx="634.52" cy="346.02" r="9.85" fill="#fff"/>
<circle cx="634.52" cy="346.02" r="5.58" fill="#ff7f00"/>
<circle cx="638.84" cy="309.43" r="9.85" fill="#fff"/>
<circle cx="638.84" cy="309.43" r="5.58" fill="#ff7f00"/>
<circle cx="643.17" cy="343.35" r="9.85" fill="#fff"/>
<circle cx="643.17" cy="343.35" r="5.58" fill="#ff7f00"/>
<circle cx="647.49" cy="327.28" r="9.85" fill="#fff"/>
<circle cx="647.49" cy="327.28" r="5.58" fill="#ff7f00"/>
<circle cx="651.81" cy="344.24" r="9.85" fill="#fff"/>
<circle cx="651.81" cy="344.24" r="5.58" fill="#ff7f00"/>
<circle cx="656.64" cy="341.78" r="9.85" fill="#fff"/>
<circle cx="656.64" cy="341.78" r="5.58" fill="#ff7f00"/>
<circle cx="660.96" cy="341.78" r="9.85" fill="#fff"/>
<circle cx="660.96" cy="341.78" r="5.58" fill="#ff7f00"/>
<circle cx="664.78" cy="341.78" r="9.85" fill="#fff"/>
<circle cx="664.78" cy="341.78" r="5.58" fill="#ff7f00"/>
<circle cx="669.11" cy="348.48" r="9.85" fill="#fff"/>
<circle cx="669.11" cy="348.48" r="5.58" fill="#ff7f00"/>
<circle cx="673.43" cy="342.23" r="9.85" fill="#fff"/>
<circle cx="673.43" cy="342.23" r="5.58" fill="#ff7f00"/>
<circle cx="677.75" cy="348.26" r="9.85" fill="#fff"/>
<circle cx="677.75" cy="348.26" r="5.58" fill="#ff7f00"/>
<circle cx="682.07" cy="339.11" r="9.85" fill="#fff"/>
<circle cx="682.07" cy="339.11" r="5.58" fill="#ff7f00"/>
<circle cx="686.90" cy="340.45" r="9.85" fill="#fff"/>
<circle cx="686.90" cy="340.45" r="5.58" fill="#ff7f00"/>
<circle cx="690.72" cy="340.45" r="9.85" fill="#fff"/>
<circle cx="690.72" cy="340.45" r="5.58" fill="#ff7f00"/>
<circle cx="695.04" cy="348.92" r="9.85" fill="#fff"/>
<circle cx="695.04" cy="348.92" r="5.58" fill="#ff7f00"/>
<circle cx="699.37" cy="352.27" r="9.85" fill="#fff"/>
<circle cx="699.37" cy="352.27" r="5.58" fill="#ff7f00"/>
<circle cx="703.69" cy="346.69" r="9.85" fill="#fff"/>
<circle cx="703.69" cy="346.69" r="5.58" fill="#ff7f00"/>
<circle cx="708.01" cy="314.78" r="9.85" fill="#fff"/>
<circle cx="708.01" cy="314.78" r="5.58" fill="#ff7f00"/>
<circle cx="712.34" cy="311.44" r="9.85" fill="#fff"/>
<circle cx="712.34" cy="311.44" r="5.58" fill="#ff7f00"/>
<circle cx="716.66" cy="322.15" r="9.85" fill="#fff"/>
<circle cx="716.66" cy="322.15" r="5.58" fill="#ff7f00"/>
<circle cx="720.98" cy="336.43" r="9.85" fill="#fff"/>
<circle cx="720.98" cy="336.43" r="5.58" fill="#ff7f00"/>
<circle cx="725.30" cy="349.15" r="9.85" fill="#fff"/>
<circle cx="725.30" cy="349.15" r="5.58" fill="#ff7f00"/>
<circle cx="729.63" cy="350.93" r="9.85" fill="#fff"/>
<circle cx="729.63" cy="350.93" r="5.58" fill="#ff7f00"/>
<circle cx="733.95" cy="346.92" r="9.85" fill="#fff"/>
<circle cx="733.95" cy="346.92" r="5.58" fill="#ff7f00"/>
<circle cx="738.27" cy="349.37" r="9.85" fill="#fff"/>
<circle cx="738.27" cy="349.37" r="5.58" fill="#ff7f00"/>
<circle cx="742.60" cy="315.45" r="9.85" fill="#fff"/>
<circle cx="742.60" cy="315.45" r="5.58" fill="#ff7f00"/>
<circle cx="746.92" cy="329.29" r="9.85" fill="#fff"/>
<circle cx="746.92" cy="329.29" r="5.58" fill="#ff7f00"/>
<circle cx="751.24" cy="311.21" r="9.85" fill="#fff"/>
<circle cx="751.24" cy="311.21" r="5.58" fill="#ff7f00"/>
<circle cx="755.57" cy="338.44" r="9.85" fill="#fff"/>
<circle cx="755.57" cy="338.44" r="5.58" fill="#ff7f00"/>
<circle cx="759.89" cy="294.48" r="9.85" fill="#fff"/>
<circle cx="759.89" cy="294.48" r="5.58" fill="#ff7f00"/>
<circle cx="764.21" cy="318.35" r="9.85" fill="#fff"/>
<circle cx="764.21" cy="318.35" r="5.58" fill="#ff7f00"/>
<circle cx="768.53" cy="346.47" r="9.85" fill="#fff"/>
<circle cx="768.53" cy="346.47" r="5.58" fill="#ff7f00"/>
<circle cx="772.86" cy="340.22" r="9.85" fill="#fff"/>
<circle cx="772.86" cy="340.22" r="5.58" fill="#ff7f00"/>
<circle cx="777.18" cy="321.25" r="9.85" fill="#fff"/>
<circle cx="777.18" cy="321.25" r="5.58" fill="#ff7f00"/>
<circle cx="781.50" cy="325.49" r="9.85" fill="#fff"/>
<circle cx="781.50" cy="325.49" r="5.58" fill="#ff7f00"/>
<circle cx="785.83" cy="296.26" r="9.85" fill="#fff"/>
<circle cx="785.83" cy="296.26" r="5.58" fill="#ff7f00"/>
<circle cx="790.15" cy="281.54" r="9.85" fill="#fff"/>
<circle cx="790.15" cy="281.54" r="5.58" fill="#ff7f00"/>
<circle cx="794.47" cy="264.35" r="9.85" fill="#fff"/>
<circle cx="794.47" cy="264.35" r="5.58" fill="#ff7f00"/>
<circle cx="798.80" cy="251.63" r="9.85" fill="#fff"/>
<circle cx="798.80" cy="251.63" r="5.58" fill="#ff7f00"/>
<circle cx="803.12" cy="212.36" r="9.85" fill="#fff"/>
<circle cx="803.12" cy="212.36" r="5.58" fill="#ff7f00"/>
<circle cx="807.44" cy="242.49" r="9.85" fill="#fff"/>
<circle cx="807.44" cy="242.49" r="5.58" fill="#ff7f00"/>
<circle cx="811.76" cy="314.34" r="9.85" fill="#fff"/>
<circle cx="811.76" cy="314.34" r="5.58" fill="#ff7f00"/>
<circle cx="816.09" cy="289.35" r="9.85" fill="#fff"/>
<circle cx="816.09" cy="289.35" r="5.58" fill="#ff7f00"/>
<circle cx="820.41" cy="321.70" r="9.85" fill="#fff"/>
<circle cx="820.41" cy="321.70" r="5.58" fill="#ff7f00"/>
<circle cx="824.73" cy="327.28" r="9.85" fill="#fff"/>
<circle cx="824.73" cy="327.28" r="5.58" fill="#ff7f00"/>
<circle cx="829.06" cy="222.63" r="9.85" fill="#fff"/>
<circle cx="829.06" cy="222.63" r="5.58" fill="#ff7f00"/>
<circle cx="833.38" cy="321.48" r="9.85" fill="#fff"/>
<circle cx="833.38" cy="321.48" r="5.58" fill="#ff7f00"/>
<circle cx="837.70" cy="243.60" r="9.85" fill="#fff"/>
<circle cx="837.70" cy="243.60" r="5.58" fill="#ff7f00"/>
<circle cx="842.03" cy="272.83" r="9.85" fill="#fff"/>
<circle cx="842.03" cy="272.83" r="5.58" fill="#ff7f00"/>
<circle cx="846.35" cy="272.61" r="9.85" fill="#fff"/>
<circle cx="846.35" cy="272.61" r="5.58" fill="#ff7f00"/>
<circle cx="850.67" cy="310.54" r="9.85" fill="#fff"/>
<circle cx="850.67" cy="310.54" r="5.58" fill="#ff7f00"/>
<circle cx="854.99" cy="346.25" r="9.85" fill="#fff"/>
<circle cx="854.99" cy="346.25" r="5.58" fill="#ff7f00"/>
<circle cx="859.32" cy="309.21" r="9.85" fill="#fff"/>
<circle cx="859.32" cy="309.21" r="5.58" fill="#ff7f00"/>
<circle cx="863.64" cy="340.45" r="9.85" fill="#fff"/>
<circle cx="863.64" cy="340.45" r="5.58" fill="#ff7f00"/>
<circle cx="867.96" cy="264.13" r="9.85" fill="#fff"/>
<circle cx="867.96" cy="264.13" r="5.58" fill="#ff7f00"/>
<circle cx="872.29" cy="305.19" r="9.85" fill="#fff"/>
<circle cx="872.29" cy="305.19" r="5.58" fill="#ff7f00"/>
<circle cx="876.61" cy="272.61" r="9.85" fill="#fff"/>
<circle cx="876.61" cy="272.61" r="5.58" fill="#ff7f00"/>
<circle cx="880.93" cy="328.84" r="9.85" fill="#fff"/>
<circle cx="880.93" cy="328.84" r="5.58" fill="#ff7f00"/>
<circle cx="885.26" cy="326.16" r="9.85" fill="#fff"/>
<circle cx="885.26" cy="326.16" r="5.58" fill="#ff7f00"/>
<circle cx="890.08" cy="338.21" r="9.85" fill="#fff"/>
<circle cx="890.08" cy="338.21" r="5.58" fill="#ff7f00"/>
<circle cx="893.90" cy="338.21" r="9.85" fill="#fff"/>
<circle cx="893.90" cy="338.21" r="5.58" fill="#ff7f00"/>
<circle cx="898.22" cy="350.49" r="9.85" fill="#fff"/>
<circle cx="898.22" cy="350.49" r="5.58" fill="#ff7f00"/>
<circle cx="902.55" cy="341.56" r="9.85" fill="#fff"/>
<circle cx="902.55" cy="341.56" r="5.58" fill="#ff7f00"/>
<circle cx="907.37" cy="346.92" r="9.85" fill="#fff"/>
<circle cx="907.37" cy="346.92" r="5.58" fill="#ff7f00"/>
<circle cx="911.19" cy="346.92" r="9.85" fill="#fff"/>
<circle cx="911.19" cy="346.92" r="5.58" fill="#ff7f00"/>
<circle cx="915.52" cy="348.48" r="9.85" fill="#fff"/>
<circle cx="915.52" cy="348.48" r="5.58" fill="#ff7f00"/>
<circle cx="920.34" cy="341.56" r="9.85" fill="#fff"/>
<circle cx="920.34" cy="341.56" r="5.58" fill="#ff7f00"/>
<circle cx="924.16" cy="341.56" r="9.85" fill="#fff"/>
<circle cx="924.16" cy="341.56" r="5.58" fill="#ff7f00"/>
<circle cx="928.49" cy="336.43" r="9.85" fill="#fff"/>
<circle cx="928.49" cy="336.43" r="5.58" fill="#ff7f00"/>
<circle cx="933.31" cy="343.57" r="9.85" fill="#fff"/>
<circle cx="933.31" cy="343.57" r="5.58" fill="#ff7f00"/>
<circle cx="937.13" cy="343.57" r="9.85" fill="#fff"/>
<circle cx="937.13" cy="343.57" r="5.58" fill="#ff7f00"/>
<circle cx="941.45" cy="354.28" r="9.85" fill="#fff"/>
<circle cx="941.45" cy="354.28" r="5.58" fill="#ff7f00"/>
<circle cx="945.78" cy="347.59" r="9.85" fill="#fff"/>
<circle cx="945.78" cy="347.59" r="5.58" fill="#ff7f00"/>
<circle cx="950.10" cy="350.26" r="9.85" fill="#fff"/>
<circle cx="950.10" cy="350.26" r="5.58" fill="#ff7f00"/>
<circle cx="954.42" cy="353.61" r="9.85" fill="#fff"/>
<circle cx="954.42" cy="353.61" r="5.58" fill="#ff7f00"/>
</g>
<text x="1087.2" y="118.3" text-anchor="end" xml:space="preserve">IP (!TCP  !UDP)</text>
<line x1="1097.3" y1="112.5" x2="1145.5" y2="112.5" stroke="#2ca02c" stroke-width="2.1"/>
<circle cx="1121.5" cy="112.5" r="9.85" fill="#fff"/><circle cx="1121.5" cy="112.5" r="5.58" fill="#2ca02c"/>
<g id="ip">
<polyline points="85.50,838.50 89.82,838.50 94.15,838.50 98.47,838.50 102.79,838.50 107.12,838.50 111.44,838.50 115.76,838.50 120.08,838.50 124.41,838.50 128.73,838.50 133.05,838.50 137.38,838.50 141.70,838.50 146.02,838.50 150.34,838.50 154.67,838.50 158.99,838.50 163.31,838.50 167.64,838.50 171.96,838.50 176.28,838.50 180.61,838.50 184.93,838.50 189.25,838.50 193.58,838.50 197.90,838.50 202.22,838.50 206.54,838.50 210.87,838.50 215.19,838.50 219.51,838.50 223.84,838.50 228.16,838.50 232.48,838.50 236.81,838.50 241.13,838.50 245.45,838.50 249.77,838.50 254.10,838.50 258.42,838.50 262.74,838.50 267.07,838.50 271.39,838.50 275.71,838.50 280.04,838.50 284.36,838.50 288.68,838.50 293.00,838.50 297.33,838.50 301.65,838.50 305.97,838.50 310.30,838.50 314.62,838.50 318.94,838.50 323.26,838.50 327.59,838.50 331.91,838.50 336.23,838.50 340.56,838.50 344.88,838.50 349.20,838.50 353.53,838.50 357.85,838.50 362.17,838.50 366.50,838.50 370.82,838.50 375.14,838.50 379.46,838.50 383.79,838.50 388.11,838.50 392.43,838.50 396.76,838.50 401.08,838.50 405.40,838.50 409.73,838.50 414.05,838.50 418.37,838.50 422.69,838.50 427.02,838.50 431.34,838.50 435.66,838.50 439.99,838.50 444.31,838.50 448.63,838.50 452.96,838.50 457.28,838.50 461.60,838.50 465.92,838.50 470.25,838.50 474.57,838.50 478.89,838.50 483.22,838.50 487.54,838.50 491.86,838.50 496.19,838.50 500.51,838.50 504.83,838.50 509.15,838.50 513.48,838.50 517.80,838.50 522.12,838.50 526.45,838.50 530.77,838.50 535.09,838.50 539.41,838.50 543.74,838.50 548.06,838.50 552.38,838.50 556.71,838.50 561.03,838.50 565.35,838.50 569.68,838.50 574.00,838.50 578.32,838.50 582.64,838.50 586.97,838.50 591.29,838.50 595.61,838.50 599.94,838.50 604.26,838.50 608.58,838.50 612.91,838.50 617.23,838.50 621.55,838.50 625.88,838.50 630.20,838.50 634.52,838.50 638.84,838.50 643.17,838.50 647.49,838.50 651.81,838.50 656.14,838.50 660.46,838.50 664.78,838.50 669.11,838.50 673.43,838.50 677.75,838.50 682.07,838.50 686.40,838.50 690.72,838.50 695.04,838.50 699.37,838.50 703.69,838.50 708.01,838.50 712.34,838.50 716.66,838.50 720.98,838.50 725.30,838.50 729.63,838.50 733.95,838.50 738.27,838.50 742.60,838.50 746.92,838.50 751.24,838.50 755.57,838.50 759.89,838.50 764.21,838.50 768.53,838.50 772.86,838.50 777.18,838.50 781.50,838.50 785.83,838.50 790.15,838.50 794.47,838.50 798.80,838.50 803.12,838.50 807.44,838.50 811.76,838.50 816.09,838.50 820.41,838.50 824.73,838.50 829.06,838.50 833.38,838.50 837.70,838.50 842.03,838.50 846.35,838.50 850.67,838.50 854.99,838.50 859.32,838.50 863.64,838.50 867.96,838.50 872.29,838.50 876.61,838.50 880.93,838.50 885.26,838.50 889.58,838.50 893.90,838.50 898.22,838.50 902.55,838.50 906.87,838.50 911.19,838.50 915.52,838.50 919.84,838.50 924.16,838.50 928.49,838.50 932.81,838.50 937.13,838.50 941.45,838.50 945.78,838.50 950.10,838.50 954.42,838.50" fill="none" stroke="#2ca02c" stroke-width="2.1" stroke-linejoin="round" stroke-linecap="butt"/>
<circle cx="85.50" cy="838.50" r="9.85" fill="#fff"/>
<circle cx="89.82" cy="838.50" r="9.85" fill="#fff"/>
<circle cx="94.15" cy="838.50" r="9.85" fill="#fff"/>
<circle cx="98.47" cy="838.50" r="9.85" fill="#fff"/>
<circle cx="102.79" cy="838.50" r="9.85" fill="#fff"/>
<circle cx="107.12" cy="838.50" r="9.85" fill="#fff"/>
<circle cx="111.44" cy="838.50" r="9.85" fill="#fff"/>
<circle cx="115.76" cy="838.50" r="9.85" fill="#fff"/>
<circle cx="120.08" cy="838.50" r="9.85" fill="#fff"/>
<circle cx="124.41" cy="838.50" r="9.85" fill="#fff"/>
<circle cx="128.73" cy="838.50" r="9.85" fill="#fff"/>
<circle cx="133.05" cy="838.50" r="9.85" fill="#fff"/>
<circle cx="137.38" cy="838.50" r="9.85" fill="#fff"/>
<circle cx="141.70" cy="838.50" r="9.85" fill="#fff"/>
<circle cx="146.02" cy="838.50" r="9.85" fill="#fff"/>
<circle cx="150.34" cy="838.50" r="9.85" fill="#fff"/>
<circle cx="154.67" cy="838.50" r="9.85" fill="#fff"/>
<circle cx="158.99" cy="838.50" r="9.85" fill="#fff"/>
<circle cx="163.31" cy="838.50" r="9.85" fill="#fff"/>
<circle cx="167.64" cy="838.50" r="9.85" fill="#fff"/>
<circle cx="171.96" cy="838.50" r="9.85" fill="#fff"/>
<circle cx="176.28" cy="838.50" r="9.85" fill="#fff"/>
<circle cx="180.61" cy="838.50" r="9.85" fill="#fff"/>
<circle cx="184.93" cy="838.50" r="9.85" fill="#fff"/>
<circle cx="189.25" cy="838.50" r="9.85" fill="#fff"/>
<circle cx="193.58" cy="838.50" r="9.85" fill="#fff"/>
<circle cx="197.90" cy="838.50" r="9.85" fill="#fff"/>
<circle cx="202.22" cy="838.50" r="9.85" fill="#fff"/>
<circle cx="206.54" cy="838.50" r="9.85" fill="#fff"/>
<circle cx="210.87" cy="838.50" r="9.85" fill="#fff"/>
<circle cx="215.19" cy="838.50" r="9.85" fill="#fff"/>
<circle cx="219.51" cy="838.50" r="9.85" fill="#fff"/>
<circle cx="223.84" cy="838.50" r="9.85" fill="#fff"/>
<circle cx="228.16" cy="838.50" r="9.85" fill="#fff"/>
<circle cx="232.48" cy="838.50" r="9.85" fill="#fff"/>
<circle cx="236.81" cy="838.50" r="9.85" fill="#fff"/>
<circle cx="241.13" cy="838.50" r="9.85" fill="#fff"/>
<circle cx="245.45" cy="838.50" r="9.85" fill="#fff"/>
<circle cx="249.77" cy="838.50" r="9.85" fill="#fff"/>
<circle cx="254.10" cy="838.50" r="9.85" fill="#fff"/>
<circle cx="258.42" cy="838.50" r="9.85" fill="#fff"/>
<circle cx="262.74" cy="838.50" r="9.85" fill="#fff"/>
<circle cx="267.07" cy="838.50" r="9.85" fill="#fff"/>
<circle cx="271.39" cy="838.50" r="9.85" fill="#fff"/>
<circle cx="275.71" cy="838.50" r="9.85" fill="#fff"/>
<circle cx="280.04" cy="838.50" r="9.85" fill="#fff"/>
<circle cx="284.36" cy="838.50" r="9.85" fill="#fff"/>
<circle cx="288.68" cy="838.50" r="9.85" fill="#fff"/>
<circle cx="293.00" cy="838.50" r="9.85" fill="#fff"/>
<circle cx="297.33" cy="838.50" r="9.85" fill="#fff"/>
<circle cx="301.65" cy="838.50" r="9.85" fill="#fff"/>
<circle cx="305.97" cy="838.50" r="9.85" fill="#fff"/>
<circle cx="310.30" cy="838.50" r="9.85" fill="#fff"/>
<circle cx="314.62" cy="838.50" r="9.85" fill="#fff"/>
<circle cx="318.94" cy="838.50" r="9.85" fill="#fff"/>
<circle cx="323.26" cy="838.50" r="9.85" fill="#fff"/>
<circle cx="327.59" cy="838.50" r="9.85" fill="#fff"/>
<circle cx="331.91" cy="838.50" r="9.85" fill="#fff"/>
<circle cx="336.23" cy="838.50" r="9.85" fill="#fff"/>
<circle cx="340.56" cy="838.50" r="9.85" fill="#fff"/>
<circle cx="344.88" cy="838.50" r="9.85" fill="#fff"/>
<circle cx="349.20" cy="838.50" r="9.85" fill="#fff"/>
<circle cx="353.53" cy="838.50" r="9.85" fill="#fff"/>
<circle cx="357.85" cy="838.50" r="9.85" fill="#fff"/>
<circle cx="362.17" cy="838.50" r="9.85" fill="#fff"/>
<circle cx="366.50" cy="838.50" r="9.85" fill="#fff"/>
<circle cx="370.82" cy="838.50" r="9.85" fill="#fff"/>
<circle cx="375.14" cy="838.50" r="9.85" fill="#fff"/>
<circle cx="379.46" cy="838.50" r="9.85" fill="#fff"/>
<circle cx="383.79" cy="838.50" r="9.85" fill="#fff"/>
<circle cx="388.11" cy="838.50" r="9.85" fill="#fff"/>
<circle cx="392.43" cy="838.50" r="9.85" fill="#fff"/>
<circle cx="396.76" cy="838.50" r="9.85" fill="#fff"/>
<circle cx="401.08" cy="838.50" r="9.85" fill="#fff"/>
<circle cx="405.40" cy="838.50" r="9.85" fill="#fff"/>
<circle cx="409.73" cy="838.50" r="9.85" fill="#fff"/>
<circle cx="414.05" cy="838.50" r="9.85" fill="#fff"/>
<circle cx="418.37" cy="838.50" r="9.85" fill="#fff"/>
<circle cx="422.69" cy="838.50" r="9.85" fill="#fff"/>
<circle cx="427.02" cy="838.50" r="9.85" fill="#fff"/>
<circle cx="431.34" cy="838.50" r="9.85" fill="#fff"/>
<circle cx="435.66" cy="838.50" r="9.85" fill="#fff"/>
<circle cx="439.99" cy="838.50" r="9.85" fill="#fff"/>
<circle cx="444.31" cy="838.50" r="9.85" fill="#fff"/>
<circle cx="448.63" cy="838.50" r="9.85" fill="#fff"/>
<circle cx="452.96" cy="838.50" r="9.85" fill="#fff"/>
<circle cx="457.28" cy="838.50" r="9.85" fill="#fff"/>
<circle cx="461.60" cy="838.50" r="9.85" fill="#fff"/>
<circle cx="465.92" cy="838.50" r="9.85" fill="#fff"/>
<circle cx="470.25" cy="838.50" r="9.85" fill="#fff"/>
<circle cx="474.57" cy="838.50" r="9.85" fill="#fff"/>
<circle cx="478.89" cy="838.50" r="9.85" fill="#fff"/>
<circle cx="483.22" cy="838.50" r="9.85" fill="#fff"/>
<circle cx="487.54" cy="838.50" r="9.85" fill="#fff"/>
<circle cx="491.86" cy="838.50" r="9.85" fill="#fff"/>
<circle cx="496.19" cy="838.50" r="9.85" fill="#fff"/>
<circle cx="500.51" cy="838.50" r="9.85" fill="#fff"/>
<circle cx="504.83" cy="838.50" r="9.85" fill="#fff"/>
<circle cx="509.15" cy="838.50" r="9.85" fill="#fff"/>
<circle cx="513.48" cy="838.50" r="9.85" fill="#fff"/>
<circle cx="517.80" cy="838.50" r="9.85" fill="#fff"/>
<circle cx="522.12" cy="838.50" r="9.85" fill="#fff"/>
<circle cx="526.45" cy="838.50" r="9.85" fill="#fff"/>
<circle cx="530.77" cy="838.50" r="9.85" fill="#fff"/>
<circle cx="535.09" cy="838.50" r="9.85" fill="#fff"/>
<circle cx="539.41" cy="838.50" r="9.85" fill="#fff"/>
<circle cx="543.74" cy="838.50" r="9.85" fill="#fff"/>
<circle cx="548.06" cy="838.50" r="9.85" fill="#fff"/>
<circle cx="552.38" cy="838.50" r="9.85" fill="#fff"/>
<circle cx="556.71" cy="838.50" r="9.85" fill="#fff"/>
<circle cx="561.03" cy="838.50" r="9.85" fill="#fff"/>
<circle cx="565.35" cy="838.50" r="9.85" fill="#fff"/>
<circle cx="569.68" cy="838.50" r="9.85" fill="#fff"/>
<circle cx="574.00" cy="838.50" r="9.85" fill="#fff"/>
<circle cx="578.32" cy="838.50" r="9.85" fill="#fff"/>
<circle cx="582.64" cy="838.50" r="9.85" fill="#fff"/>
<circle cx="586.97" cy="838.50" r="9.85" fill="#fff"/>
<circle cx="591.29" cy="838.50" r="9.85" fill="#fff"/>
<circle cx="595.61" cy="838.50" r="9.85" fill="#fff"/>
<circle cx="599.94" cy="838.50" r="9.85" fill="#fff"/>
<circle cx="604.26" cy="838.50" r="9.85" fill="#fff"/>
<circle cx="608.58" cy="838.50" r="9.85" fill="#fff"/>
<circle cx="612.91" cy="838.50" r="9.85" fill="#fff"/>
<circle cx="617.23" cy="838.50" r="9.85" fill="#fff"/>
<circle cx="621.55" cy="838.50" r="9.85" fill="#fff"/>
<circle cx="625.88" cy="838.50" r="9.85" fill="#fff"/>
<circle cx="630.20" cy="838.50" r="9.85" fill="#fff"/>
<circle cx="634.52" cy="838.50" r="9.85" fill="#fff"/>
<circle cx="638.84" cy="838.50" r="9.85" fill="#fff"/>
<circle cx="643.17" cy="838.50" r="9.85" fill="#fff"/>
<circle cx="647.49" cy="838.50" r="9.85" fill="#fff"/>
<circle cx="651.81" cy="838.50" r="9.85" fill="#fff"/>
<circle cx="656.14" cy="838.50" r="9.85" fill="#fff"/>
<circle cx="660.46" cy="838.50" r="9.85" fill="#fff"/>
<circle cx="664.78" cy="838.50" r="9.85" fill="#fff"/>
<circle cx="669.11" cy="838.50" r="9.85" fill="#fff"/>
<circle cx="673.43" cy="838.50" r="9.85" fill="#fff"/>
<circle cx="677.75" cy="838.50" r="9.85" fill="#fff"/>
<circle cx="682.07" cy="838.50" r="9.85" fill="#fff"/>
<circle cx="686.40" cy="838.50" r="9.85" fill="#fff"/>
<circle cx="690.72" cy="838.50" r="9.85" fill="#fff"/>
<circle cx="695.04" cy="838.50" r="9.85" fill="#fff"/>
<circle cx="699.37" cy="838.50" r="9.85" fill="#fff"/>
<circle cx="703.69" cy="838.50" r="9.85" fill="#fff"/>
<circle cx="708.01" cy="838.50" r="9.85" fill="#fff"/>
<circle cx="712.34" cy="838.50" r="9.85" fill="#fff"/>
<circle cx="716.66" cy="838.50" r="9.85" fill="#fff"/>
<circle cx="720.98" cy="838.50" r="9.85" fill="#fff"/>
<circle cx="725.30" cy="838.50" r="9.85" fill="#fff"/>
<circle cx="729.63" cy="838.50" r="9.85" fill="#fff"/>
<circle cx="733.95" cy="838.50" r="9.85" fill="#fff"/>
<circle cx="738.27" cy="838.50" r="9.85" fill="#fff"/>
<circle cx="742.60" cy="838.50" r="9.85" fill="#fff"/>
<circle cx="746.92" cy="838.50" r="9.85" fill="#fff"/>
<circle cx="751.24" cy="838.50" r="9.85" fill="#fff"/>
<circle cx="755.57" cy="838.50" r="9.85" fill="#fff"/>
<circle cx="759.89" cy="838.50" r="9.85" fill="#fff"/>
<circle cx="764.21" cy="838.50" r="9.85" fill="#fff"/>
<circle cx="768.53" cy="838.50" r="9.85" fill="#fff"/>
<circle cx="772.86" cy="838.50" r="9.85" fill="#fff"/>
<circle cx="777.18" cy="838.50" r="9.85" fill="#fff"/>
<circle cx="781.50" cy="838.50" r="9.85" fill="#fff"/>
<circle cx="785.83" cy="838.50" r="9.85" fill="#fff"/>
<circle cx="790.15" cy="838.50" r="9.85" fill="#fff"/>
<circle cx="794.47" cy="838.50" r="9.85" fill="#fff"/>
<circle cx="798.80" cy="838.50" r="9.85" fill="#fff"/>
<circle cx="803.12" cy="838.50" r="9.85" fill="#fff"/>
<circle cx="807.44" cy="838.50" r="9.85" fill="#fff"/>
<circle cx="811.76" cy="838.50" r="9.85" fill="#fff"/>
<circle cx="816.09" cy="838.50" r="9.85" fill="#fff"/>
<circle cx="820.41" cy="838.50" r="9.85" fill="#fff"/>
<circle cx="824.73" cy="838.50" r="9.85" fill="#fff"/>
<circle cx="829.06" cy="838.50" r="9.85" fill="#fff"/>
<circle cx="833.38" cy="838.50" r="9.85" fill="#fff"/>
<circle cx="837.70" cy="838.50" r="9.85" fill="#fff"/>
<circle cx="842.03" cy="838.50" r="9.85" fill="#fff"/>
<circle cx="846.35" cy="838.50" r="9.85" fill="#fff"/>
<circle cx="850.67" cy="838.50" r="9.85" fill="#fff"/>
<circle cx="854.99" cy="838.50" r="9.85" fill="#fff"/>
<circle cx="859.32" cy="838.50" r="9.85" fill="#fff"/>
<circle cx="863.64" cy="838.50" r="9.85" fill="#fff"/>
<circle cx="867.96" cy="838.50" r="9.85" fill="#fff"/>
<circle cx="872.29" cy="838.50" r="9.85" fill="#fff"/>
<circle cx="876.61" cy="838.50" r="9.85" fill="#fff"/>
<circle cx="880.93" cy="838.50" r="9.85" fill="#fff"/>
<circle cx="885.26" cy="838.50" r="9.85" fill="#fff"/>
<circle cx="889.58" cy="838.50" r="9.85" fill="#fff"/>
<circle cx="893.90" cy="838.50" r="9.85" fill="#fff"/>
<circle cx="898.22" cy="838.50" r="9.85" fill="#fff"/>
<circle cx="902.55" cy="838.50" r="9.85" fill="#fff"/>
<circle cx="906.87" cy="838.50" r="9.85" fill="#fff"/>
<circle cx="911.19" cy="838.50" r="9.85" fill="#fff"/>
<circle cx="915.52" cy="838.50" r="9.85" fill="#fff"/>
<circle cx="919.84" cy="838.50" r="9.85" fill="#fff"/>
<circle cx="924.16" cy="838.50" r="9.85" fill="#fff"/>
<circle cx="928.49" cy="838.50" r="9.85" fill="#fff"/>
<circle cx="932.81" cy="838.50" r="9.85" fill="#fff"/>
<circle cx="937.13" cy="838.50" r="9.85" fill="#fff"/>
<circle cx="941.45" cy="838.50" r="9.85" fill="#fff"/>
<circle cx="945.78" cy="838.50" r="9.85" fill="#fff"/>
<circle cx="950.10" cy="838.50" r="9.85" fill="#fff"/>
<circle cx="954.42" cy="838.50" r="9.85" fill="#fff"/>
<circle cx="954.42" cy="838.50" r="5.58" fill="#2ca02c"/>
</g>
<path d="M81.60,833.9 L80.50,835.9 L80.50,841.1 L81.60,843.1" fill="none" stroke="#2ca02c" stroke-opacity="0.45" stroke-width="1" stroke-linejoin="round"/>
<path d="M94.59,833.9 L93.49,835.9 L93.49,841.1 L94.59,843.1" fill="none" stroke="#2ca02c" stroke-opacity="0.45" stroke-width="1" stroke-linejoin="round"/>
<path d="M107.57,833.9 L106.47,835.9 L106.47,841.1 L107.57,843.1" fill="none" stroke="#2ca02c" stroke-opacity="0.45" stroke-width="1" stroke-linejoin="round"/>
<path d="M124.55,833.9 L123.45,835.9 L123.45,841.1 L124.55,843.1" fill="none" stroke="#2ca02c" stroke-opacity="0.45" stroke-width="1" stroke-linejoin="round"/>
<path d="M137.54,833.9 L136.44,835.9 L136.44,841.1 L137.54,843.1" fill="none" stroke="#2ca02c" stroke-opacity="0.45" stroke-width="1" stroke-linejoin="round"/>
<path d="M150.53,833.9 L149.43,835.9 L149.43,841.1 L150.53,843.1" fill="none" stroke="#2ca02c" stroke-opacity="0.45" stroke-width="1" stroke-linejoin="round"/>
<path d="M163.51,833.9 L162.41,835.9 L162.41,841.1 L163.51,843.1" fill="none" stroke="#2ca02c" stroke-opacity="0.45" stroke-width="1" stroke-linejoin="round"/>
<path d="M176.50,833.9 L175.40,835.9 L175.40,841.1 L176.50,843.1" fill="none" stroke="#2ca02c" stroke-opacity="0.45" stroke-width="1" stroke-linejoin="round"/>
<path d="M189.49,833.9 L188.39,835.9 L188.39,841.1 L189.49,843.1" fill="none" stroke="#2ca02c" stroke-opacity="0.45" stroke-width="1" stroke-linejoin="round"/>
<path d="M202.47,833.9 L201.37,835.9 L201.37,841.1 L202.47,843.1" fill="none" stroke="#2ca02c" stroke-opacity="0.45" stroke-width="1" stroke-linejoin="round"/>
<path d="M215.46,833.9 L214.36,835.9 L214.36,841.1 L215.46,843.1" fill="none" stroke="#2ca02c" stroke-opacity="0.45" stroke-width="1" stroke-linejoin="round"/>
<path d="M232.44,833.9 L231.34,835.9 L231.34,841.1 L232.44,843.1" fill="none" stroke="#2ca02c" stroke-opacity="0.45" stroke-width="1" stroke-linejoin="round"/>
<path d="M245.43,833.9 L244.33,835.9 L244.33,841.1 L245.43,843.1" fill="none" stroke="#2ca02c" stroke-opacity="0.45" stroke-width="1" stroke-linejoin="round"/>
<path d="M258.42,833.9 L257.32,835.9 L257.32,841.1 L258.42,843.1" fill="none" stroke="#2ca02c" stroke-opacity="0.45" stroke-width="1" stroke-linejoin="round"/>
<path d="M271.40,833.9 L270.30,835.9 L270.30,841.1 L271.40,843.1" fill="none" stroke="#2ca02c" stroke-opacity="0.45" stroke-width="1" stroke-linejoin="round"/>
<path d="M284.39,833.9 L283.29,835.9 L283.29,841.1 L284.39,843.1" fill="none" stroke="#2ca02c" stroke-opacity="0.45" stroke-width="1" stroke-linejoin="round"/>
<path d="M297.38,833.9 L296.27,835.9 L296.27,841.1 L297.38,843.1" fill="none" stroke="#2ca02c" stroke-opacity="0.45" stroke-width="1" stroke-linejoin="round"/>
<path d="M310.36,833.9 L309.26,835.9 L309.26,841.1 L310.36,843.1" fill="none" stroke="#2ca02c" stroke-opacity="0.45" stroke-width="1" stroke-linejoin="round"/>
<path d="M323.35,833.9 L322.25,835.9 L322.25,841.1 L323.35,843.1" fill="none" stroke="#2ca02c" stroke-opacity="0.45" stroke-width="1" stroke-linejoin="round"/>
<path d="M340.33,833.9 L339.23,835.9 L339.23,841.1 L340.33,843.1" fill="none" stroke="#2ca02c" stroke-opacity="0.45" stroke-width="1" stroke-linejoin="round"/>
<path d="M353.32,833.9 L352.22,835.9 L352.22,841.1 L353.32,843.1" fill="none" stroke="#2ca02c" stroke-opacity="0.45" stroke-width="1" stroke-linejoin="round"/>
<path d="M366.30,833.9 L365.20,835.9 L365.20,841.1 L366.30,843.1" fill="none" stroke="#2ca02c" stroke-opacity="0.45" stroke-width="1" stroke-linejoin="round"/>
<path d="M379.29,833.9 L378.19,835.9 L378.19,841.1 L379.29,843.1" fill="none" stroke="#2ca02c" stroke-opacity="0.45" stroke-width="1" stroke-linejoin="round"/>
<path d="M392.28,833.9 L391.18,835.9 L391.18,841.1 L392.28,843.1" fill="none" stroke="#2ca02c" stroke-opacity="0.45" stroke-width="1" stroke-linejoin="round"/>
<path d="M405.26,833.9 L404.16,835.9 L404.16,841.1 L405.26,843.1" fill="none" stroke="#2ca02c" stroke-opacity="0.45" stroke-width="1" stroke-linejoin="round"/>
<path d="M418.25,833.9 L417.15,835.9 L417.15,841.1 L418.25,843.1" fill="none" stroke="#2ca02c" stroke-opacity="0.45" stroke-width="1" stroke-linejoin="round"/>
<path d="M431.24,833.9 L430.14,835.9 L430.14,841.1 L431.24,843.1" fill="none" stroke="#2ca02c" stroke-opacity="0.45" stroke-width="1" stroke-linejoin="round"/>
<path d="M448.22,833.9 L447.12,835.9 L447.12,841.1 L448.22,843.1" fill="none" stroke="#2ca02c" stroke-opacity="0.45" stroke-width="1" stroke-linejoin="round"/>
<path d="M461.20,833.9 L460.10,835.9 L460.10,841.1 L461.20,843.1" fill="none" stroke="#2ca02c" stroke-opacity="0.45" stroke-width="1" stroke-linejoin="round"/>
<path d="M474.19,833.9 L473.09,835.9 L473.09,841.1 L474.19,843.1" fill="none" stroke="#2ca02c" stroke-opacity="0.45" stroke-width="1" stroke-linejoin="round"/>
<path d="M487.18,833.9 L486.08,835.9 L486.08,841.1 L487.18,843.1" fill="none" stroke="#2ca02c" stroke-opacity="0.45" stroke-width="1" stroke-linejoin="round"/>
<path d="M500.16,833.9 L499.06,835.9 L499.06,841.1 L500.16,843.1" fill="none" stroke="#2ca02c" stroke-opacity="0.45" stroke-width="1" stroke-linejoin="round"/>
<path d="M513.15,833.9 L512.05,835.9 L512.05,841.1 L513.15,843.1" fill="none" stroke="#2ca02c" stroke-opacity="0.45" stroke-width="1" stroke-linejoin="round"/>
<path d="M526.14,833.9 L525.04,835.9 L525.04,841.1 L526.14,843.1" fill="none" stroke="#2ca02c" stroke-opacity="0.45" stroke-width="1" stroke-linejoin="round"/>
<path d="M539.12,833.9 L538.02,835.9 L538.02,841.1 L539.12,843.1" fill="none" stroke="#2ca02c" stroke-opacity="0.45" stroke-width="1" stroke-linejoin="round"/>
<path d="M556.11,833.9 L555.00,835.9 L555.00,841.1 L556.11,843.1" fill="none" stroke="#2ca02c" stroke-opacity="0.45" stroke-width="1" stroke-linejoin="round"/>
<path d="M569.09,833.9 L567.99,835.9 L567.99,841.1 L569.09,843.1" fill="none" stroke="#2ca02c" stroke-opacity="0.45" stroke-width="1" stroke-linejoin="round"/>
<path d="M582.08,833.9 L580.98,835.9 L580.98,841.1 L582.08,843.1" fill="none" stroke="#2ca02c" stroke-opacity="0.45" stroke-width="1" stroke-linejoin="round"/>
<path d="M595.06,833.9 L593.96,835.9 L593.96,841.1 L595.06,843.1" fill="none" stroke="#2ca02c" stroke-opacity="0.45" stroke-width="1" stroke-linejoin="round"/>
<path d="M608.05,833.9 L606.95,835.9 L606.95,841.1 L608.05,843.1" fill="none" stroke="#2ca02c" stroke-opacity="0.45" stroke-width="1" stroke-linejoin="round"/>
<path d="M621.04,833.9 L619.94,835.9 L619.94,841.1 L621.04,843.1" fill="none" stroke="#2ca02c" stroke-opacity="0.45" stroke-width="1" stroke-linejoin="round"/>
<path d="M634.02,833.9 L632.92,835.9 L632.92,841.1 L634.02,843.1" fill="none" stroke="#2ca02c" stroke-opacity="0.45" stroke-width="1" stroke-linejoin="round"/>
<path d="M647.01,833.9 L645.91,835.9 L645.91,841.1 L647.01,843.1" fill="none" stroke="#2ca02c" stroke-opacity="0.45" stroke-width="1" stroke-linejoin="round"/>
<path d="M663.99,833.9 L662.89,835.9 L662.89,841.1 L663.99,843.1" fill="none" stroke="#2ca02c" stroke-opacity="0.45" stroke-width="1" stroke-linejoin="round"/>
<path d="M676.98,833.9 L675.88,835.9 L675.88,841.1 L676.98,843.1" fill="none" stroke="#2ca02c" stroke-opacity="0.45" stroke-width="1" stroke-linejoin="round"/>
<path d="M689.97,833.9 L688.87,835.9 L688.87,841.1 L689.97,843.1" fill="none" stroke="#2ca02c" stroke-opacity="0.45" stroke-width="1" stroke-linejoin="round"/>
<path d="M702.95,833.9 L701.85,835.9 L701.85,841.1 L702.95,843.1" fill="none" stroke="#2ca02c" stroke-opacity="0.45" stroke-width="1" stroke-linejoin="round"/>
<path d="M715.94,833.9 L714.84,835.9 L714.84,841.1 L715.94,843.1" fill="none" stroke="#2ca02c" stroke-opacity="0.45" stroke-width="1" stroke-linejoin="round"/>
<path d="M728.93,833.9 L727.83,835.9 L727.83,841.1 L728.93,843.1" fill="none" stroke="#2ca02c" stroke-opacity="0.45" stroke-width="1" stroke-linejoin="round"/>
<path d="M741.91,833.9 L740.81,835.9 L740.81,841.1 L741.91,843.1" fill="none" stroke="#2ca02c" stroke-opacity="0.45" stroke-width="1" stroke-linejoin="round"/>
<path d="M754.90,833.9 L753.80,835.9 L753.80,841.1 L754.90,843.1" fill="none" stroke="#2ca02c" stroke-opacity="0.45" stroke-width="1" stroke-linejoin="round"/>
<path d="M771.88,833.9 L770.78,835.9 L770.78,841.1 L771.88,843.1" fill="none" stroke="#2ca02c" stroke-opacity="0.45" stroke-width="1" stroke-linejoin="round"/>
<path d="M784.87,833.9 L783.77,835.9 L783.77,841.1 L784.87,843.1" fill="none" stroke="#2ca02c" stroke-opacity="0.45" stroke-width="1" stroke-linejoin="round"/>
<path d="M797.85,833.9 L796.75,835.9 L796.75,841.1 L797.85,843.1" fill="none" stroke="#2ca02c" stroke-opacity="0.45" stroke-width="1" stroke-linejoin="round"/>
<path d="M810.84,833.9 L809.74,835.9 L809.74,841.1 L810.84,843.1" fill="none" stroke="#2ca02c" stroke-opacity="0.45" stroke-width="1" stroke-linejoin="round"/>
<path d="M823.83,833.9 L822.73,835.9 L822.73,841.1 L823.83,843.1" fill="none" stroke="#2ca02c" stroke-opacity="0.45" stroke-width="1" stroke-linejoin="round"/>
<path d="M836.81,833.9 L835.71,835.9 L835.71,841.1 L836.81,843.1" fill="none" stroke="#2ca02c" stroke-opacity="0.45" stroke-width="1" stroke-linejoin="round"/>
<path d="M849.80,833.9 L848.70,835.9 L848.70,841.1 L849.80,843.1" fill="none" stroke="#2ca02c" stroke-opacity="0.45" stroke-width="1" stroke-linejoin="round"/>
<path d="M862.79,833.9 L861.69,835.9 L861.69,841.1 L862.79,843.1" fill="none" stroke="#2ca02c" stroke-opacity="0.45" stroke-width="1" stroke-linejoin="round"/>
<path d="M879.77,833.9 L878.67,835.9 L878.67,841.1 L879.77,843.1" fill="none" stroke="#2ca02c" stroke-opacity="0.45" stroke-width="1" stroke-linejoin="round"/>
<path d="M892.75,833.9 L891.65,835.9 L891.65,841.1 L892.75,843.1" fill="none" stroke="#2ca02c" stroke-opacity="0.45" stroke-width="1" stroke-linejoin="round"/>
<path d="M905.74,833.9 L904.64,835.9 L904.64,841.1 L905.74,843.1" fill="none" stroke="#2ca02c" stroke-opacity="0.45" stroke-width="1" stroke-linejoin="round"/>
<path d="M918.73,833.9 L917.63,835.9 L917.63,841.1 L918.73,843.1" fill="none" stroke="#2ca02c" stroke-opacity="0.45" stroke-width="1" stroke-linejoin="round"/>
<path d="M931.71,833.9 L930.61,835.9 L930.61,841.1 L931.71,843.1" fill="none" stroke="#2ca02c" stroke-opacity="0.45" stroke-width="1" stroke-linejoin="round"/>
<path d="M944.70,833.9 L943.60,835.9 L943.60,841.1 L944.70,843.1" fill="none" stroke="#2ca02c" stroke-opacity="0.45" stroke-width="1" stroke-linejoin="round"/>
<polyline points="85.5,57.5 85.5,838.5 1165.5,838.5" fill="none" stroke="#000" stroke-width="1" stroke-linecap="square"/>
<text x="75.3" y="845" text-anchor="end">0</text>
<text x="75.3" y="733" text-anchor="end">50</text>
<text x="75.3" y="621" text-anchor="end">100</text>
<text x="75.3" y="510" text-anchor="end">150</text>
<text x="75.3" y="398" text-anchor="end">200</text>
<text x="75.3" y="287" text-anchor="end">250</text>
<text x="75.3" y="175" text-anchor="end">300</text>
<text x="75.3" y="63" text-anchor="end">350</text>
<text x="88.10" y="864.3" text-anchor="middle">0</text>
<text x="304.10" y="864.3" text-anchor="middle">50</text>
<text x="520.10" y="864.3" text-anchor="middle">100</text>
<text x="736.10" y="864.3" text-anchor="middle">150</text>
<text x="952.10" y="864.3" text-anchor="middle">200</text>
<text x="1168.10" y="864.3" text-anchor="middle">250</text>
<text x="625.5" y="891.5" text-anchor="middle">Time (s)</text>
<text transform="translate(24,448) rotate(-90)" text-anchor="middle">Megabits</text>
<text x="607" y="35" text-anchor="middle" xml:space="preserve">../large-128snap/wireguard-sts/Phase<tspan font-size="12.8" dy="4.8">3</tspan><tspan font-size="12.8" dy="0">L</tspan><tspan dy="-4.8">arge</tspan><tspan font-size="12.8" dy="4.8">2</tspan><tspan dy="-4.8">500</tspan><tspan font-size="12.8" dy="4.8">V</tspan><tspan dy="-4.8">tc</tspan><tspan font-size="12.8" dy="4.8">B</tspan><tspan dy="-4.8">eta/pcaps/1680581394-e0.r0.phase3largeencrypted.pharos-1iperf-20vtc-wireguard-sts000000.pcap</tspan></text>
</svg></body></html>
